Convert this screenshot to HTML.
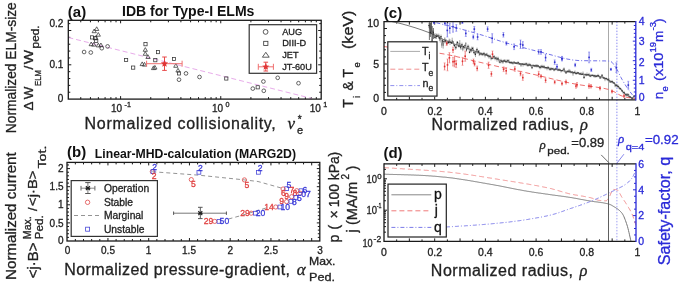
<!DOCTYPE html>
<html><head><meta charset="utf-8"><style>
html,body{margin:0;padding:0;background:#fff;width:685px;height:285px;overflow:hidden;}
svg{display:block;filter:blur(0.35px);}
</style></head><body>
<svg width="685" height="285" viewBox="0 0 685 285" xmlns="http://www.w3.org/2000/svg">
<rect x="0" y="0" width="685" height="285" fill="#fff"/>
<line x1="68.30" y1="64.80" x2="71.30" y2="64.80" stroke="#1a1a1a" stroke-width="1.0" />
<line x1="321.20" y1="64.80" x2="318.20" y2="64.80" stroke="#1a1a1a" stroke-width="1.0" />
<line x1="68.30" y1="30.50" x2="71.30" y2="30.50" stroke="#1a1a1a" stroke-width="1.0" />
<line x1="321.20" y1="30.50" x2="318.20" y2="30.50" stroke="#1a1a1a" stroke-width="1.0" />
<line x1="68.30" y1="92.24" x2="70.30" y2="92.24" stroke="#1a1a1a" stroke-width="1.0" />
<line x1="321.20" y1="92.24" x2="319.20" y2="92.24" stroke="#1a1a1a" stroke-width="1.0" />
<line x1="68.30" y1="85.38" x2="70.30" y2="85.38" stroke="#1a1a1a" stroke-width="1.0" />
<line x1="321.20" y1="85.38" x2="319.20" y2="85.38" stroke="#1a1a1a" stroke-width="1.0" />
<line x1="68.30" y1="78.52" x2="70.30" y2="78.52" stroke="#1a1a1a" stroke-width="1.0" />
<line x1="321.20" y1="78.52" x2="319.20" y2="78.52" stroke="#1a1a1a" stroke-width="1.0" />
<line x1="68.30" y1="71.66" x2="70.30" y2="71.66" stroke="#1a1a1a" stroke-width="1.0" />
<line x1="321.20" y1="71.66" x2="319.20" y2="71.66" stroke="#1a1a1a" stroke-width="1.0" />
<line x1="68.30" y1="57.94" x2="70.30" y2="57.94" stroke="#1a1a1a" stroke-width="1.0" />
<line x1="321.20" y1="57.94" x2="319.20" y2="57.94" stroke="#1a1a1a" stroke-width="1.0" />
<line x1="68.30" y1="51.08" x2="70.30" y2="51.08" stroke="#1a1a1a" stroke-width="1.0" />
<line x1="321.20" y1="51.08" x2="319.20" y2="51.08" stroke="#1a1a1a" stroke-width="1.0" />
<line x1="68.30" y1="44.22" x2="70.30" y2="44.22" stroke="#1a1a1a" stroke-width="1.0" />
<line x1="321.20" y1="44.22" x2="319.20" y2="44.22" stroke="#1a1a1a" stroke-width="1.0" />
<line x1="68.30" y1="37.36" x2="70.30" y2="37.36" stroke="#1a1a1a" stroke-width="1.0" />
<line x1="321.20" y1="37.36" x2="319.20" y2="37.36" stroke="#1a1a1a" stroke-width="1.0" />
<line x1="68.30" y1="23.64" x2="70.30" y2="23.64" stroke="#1a1a1a" stroke-width="1.0" />
<line x1="321.20" y1="23.64" x2="319.20" y2="23.64" stroke="#1a1a1a" stroke-width="1.0" />
<line x1="120.60" y1="99.10" x2="120.60" y2="96.10" stroke="#1a1a1a" stroke-width="1.0" />
<line x1="120.60" y1="20.30" x2="120.60" y2="23.30" stroke="#1a1a1a" stroke-width="1.0" />
<line x1="220.75" y1="99.10" x2="220.75" y2="96.10" stroke="#1a1a1a" stroke-width="1.0" />
<line x1="220.75" y1="20.30" x2="220.75" y2="23.30" stroke="#1a1a1a" stroke-width="1.0" />
<line x1="80.75" y1="99.10" x2="80.75" y2="97.10" stroke="#1a1a1a" stroke-width="1.0" />
<line x1="80.75" y1="20.30" x2="80.75" y2="22.30" stroke="#1a1a1a" stroke-width="1.0" />
<line x1="90.45" y1="99.10" x2="90.45" y2="97.10" stroke="#1a1a1a" stroke-width="1.0" />
<line x1="90.45" y1="20.30" x2="90.45" y2="22.30" stroke="#1a1a1a" stroke-width="1.0" />
<line x1="98.38" y1="99.10" x2="98.38" y2="97.10" stroke="#1a1a1a" stroke-width="1.0" />
<line x1="98.38" y1="20.30" x2="98.38" y2="22.30" stroke="#1a1a1a" stroke-width="1.0" />
<line x1="105.09" y1="99.10" x2="105.09" y2="97.10" stroke="#1a1a1a" stroke-width="1.0" />
<line x1="105.09" y1="20.30" x2="105.09" y2="22.30" stroke="#1a1a1a" stroke-width="1.0" />
<line x1="110.89" y1="99.10" x2="110.89" y2="97.10" stroke="#1a1a1a" stroke-width="1.0" />
<line x1="110.89" y1="20.30" x2="110.89" y2="22.30" stroke="#1a1a1a" stroke-width="1.0" />
<line x1="116.02" y1="99.10" x2="116.02" y2="97.10" stroke="#1a1a1a" stroke-width="1.0" />
<line x1="116.02" y1="20.30" x2="116.02" y2="22.30" stroke="#1a1a1a" stroke-width="1.0" />
<line x1="150.75" y1="99.10" x2="150.75" y2="97.10" stroke="#1a1a1a" stroke-width="1.0" />
<line x1="150.75" y1="20.30" x2="150.75" y2="22.30" stroke="#1a1a1a" stroke-width="1.0" />
<line x1="168.38" y1="99.10" x2="168.38" y2="97.10" stroke="#1a1a1a" stroke-width="1.0" />
<line x1="168.38" y1="20.30" x2="168.38" y2="22.30" stroke="#1a1a1a" stroke-width="1.0" />
<line x1="180.90" y1="99.10" x2="180.90" y2="97.10" stroke="#1a1a1a" stroke-width="1.0" />
<line x1="180.90" y1="20.30" x2="180.90" y2="22.30" stroke="#1a1a1a" stroke-width="1.0" />
<line x1="190.60" y1="99.10" x2="190.60" y2="97.10" stroke="#1a1a1a" stroke-width="1.0" />
<line x1="190.60" y1="20.30" x2="190.60" y2="22.30" stroke="#1a1a1a" stroke-width="1.0" />
<line x1="198.53" y1="99.10" x2="198.53" y2="97.10" stroke="#1a1a1a" stroke-width="1.0" />
<line x1="198.53" y1="20.30" x2="198.53" y2="22.30" stroke="#1a1a1a" stroke-width="1.0" />
<line x1="205.24" y1="99.10" x2="205.24" y2="97.10" stroke="#1a1a1a" stroke-width="1.0" />
<line x1="205.24" y1="20.30" x2="205.24" y2="22.30" stroke="#1a1a1a" stroke-width="1.0" />
<line x1="211.04" y1="99.10" x2="211.04" y2="97.10" stroke="#1a1a1a" stroke-width="1.0" />
<line x1="211.04" y1="20.30" x2="211.04" y2="22.30" stroke="#1a1a1a" stroke-width="1.0" />
<line x1="216.17" y1="99.10" x2="216.17" y2="97.10" stroke="#1a1a1a" stroke-width="1.0" />
<line x1="216.17" y1="20.30" x2="216.17" y2="22.30" stroke="#1a1a1a" stroke-width="1.0" />
<line x1="250.90" y1="99.10" x2="250.90" y2="97.10" stroke="#1a1a1a" stroke-width="1.0" />
<line x1="250.90" y1="20.30" x2="250.90" y2="22.30" stroke="#1a1a1a" stroke-width="1.0" />
<line x1="268.53" y1="99.10" x2="268.53" y2="97.10" stroke="#1a1a1a" stroke-width="1.0" />
<line x1="268.53" y1="20.30" x2="268.53" y2="22.30" stroke="#1a1a1a" stroke-width="1.0" />
<line x1="281.05" y1="99.10" x2="281.05" y2="97.10" stroke="#1a1a1a" stroke-width="1.0" />
<line x1="281.05" y1="20.30" x2="281.05" y2="22.30" stroke="#1a1a1a" stroke-width="1.0" />
<line x1="290.75" y1="99.10" x2="290.75" y2="97.10" stroke="#1a1a1a" stroke-width="1.0" />
<line x1="290.75" y1="20.30" x2="290.75" y2="22.30" stroke="#1a1a1a" stroke-width="1.0" />
<line x1="298.68" y1="99.10" x2="298.68" y2="97.10" stroke="#1a1a1a" stroke-width="1.0" />
<line x1="298.68" y1="20.30" x2="298.68" y2="22.30" stroke="#1a1a1a" stroke-width="1.0" />
<line x1="305.39" y1="99.10" x2="305.39" y2="97.10" stroke="#1a1a1a" stroke-width="1.0" />
<line x1="305.39" y1="20.30" x2="305.39" y2="22.30" stroke="#1a1a1a" stroke-width="1.0" />
<line x1="311.19" y1="99.10" x2="311.19" y2="97.10" stroke="#1a1a1a" stroke-width="1.0" />
<line x1="311.19" y1="20.30" x2="311.19" y2="22.30" stroke="#1a1a1a" stroke-width="1.0" />
<line x1="316.32" y1="99.10" x2="316.32" y2="97.10" stroke="#1a1a1a" stroke-width="1.0" />
<line x1="316.32" y1="20.30" x2="316.32" y2="22.30" stroke="#1a1a1a" stroke-width="1.0" />
<line x1="68.30" y1="37.50" x2="312.00" y2="98.50" stroke="#e8acea" stroke-width="1.0" stroke-dasharray="5,3"/>
<circle cx="84.1" cy="52" r="1.85" fill="none" stroke="#333" stroke-width="0.75"/>
<circle cx="90.8" cy="52.5" r="1.85" fill="none" stroke="#333" stroke-width="0.75"/>
<circle cx="101.8" cy="48.2" r="1.85" fill="none" stroke="#333" stroke-width="0.75"/>
<circle cx="107.6" cy="46.4" r="1.85" fill="none" stroke="#333" stroke-width="0.75"/>
<circle cx="186" cy="73.4" r="1.85" fill="none" stroke="#333" stroke-width="0.75"/>
<circle cx="179" cy="79.7" r="1.85" fill="none" stroke="#333" stroke-width="0.75"/>
<circle cx="199.5" cy="77" r="1.85" fill="none" stroke="#333" stroke-width="0.75"/>
<circle cx="263.4" cy="81.5" r="1.85" fill="none" stroke="#333" stroke-width="0.75"/>
<circle cx="277.7" cy="77.8" r="1.85" fill="none" stroke="#333" stroke-width="0.75"/>
<circle cx="298.5" cy="83.2" r="1.85" fill="none" stroke="#333" stroke-width="0.75"/>
<circle cx="252.8" cy="88.6" r="1.85" fill="none" stroke="#333" stroke-width="0.75"/>
<circle cx="263.8" cy="90.8" r="1.85" fill="none" stroke="#333" stroke-width="0.75"/>
<rect x="90.40" y="35.80" width="3.2" height="3.2" fill="none" stroke="#333" stroke-width="0.75"/>
<rect x="93.60" y="36.60" width="3.2" height="3.2" fill="none" stroke="#333" stroke-width="0.75"/>
<rect x="94.60" y="39.30" width="3.2" height="3.2" fill="none" stroke="#333" stroke-width="0.75"/>
<rect x="124.50" y="58.40" width="3.2" height="3.2" fill="none" stroke="#333" stroke-width="0.75"/>
<rect x="131.60" y="66.00" width="3.2" height="3.2" fill="none" stroke="#333" stroke-width="0.75"/>
<rect x="143.90" y="42.60" width="3.2" height="3.2" fill="none" stroke="#333" stroke-width="0.75"/>
<rect x="156.40" y="50.50" width="3.2" height="3.2" fill="none" stroke="#333" stroke-width="0.75"/>
<rect x="153.70" y="58.60" width="3.2" height="3.2" fill="none" stroke="#333" stroke-width="0.75"/>
<rect x="172.40" y="57.40" width="3.2" height="3.2" fill="none" stroke="#333" stroke-width="0.75"/>
<rect x="224.70" y="76.90" width="3.2" height="3.2" fill="none" stroke="#333" stroke-width="0.75"/>
<rect x="256.10" y="85.70" width="3.2" height="3.2" fill="none" stroke="#333" stroke-width="0.75"/>
<rect x="177.40" y="71.80" width="3.2" height="3.2" fill="none" stroke="#333" stroke-width="0.75"/>
<path d="M94.20,29.00 L96.30,32.70 L92.10,32.70 Z" fill="none" stroke="#333" stroke-width="0.75"/>
<path d="M96.70,26.80 L98.80,30.50 L94.60,30.50 Z" fill="none" stroke="#333" stroke-width="0.75"/>
<path d="M98.30,32.50 L100.40,36.20 L96.20,36.20 Z" fill="none" stroke="#333" stroke-width="0.75"/>
<path d="M95.80,35.70 L97.90,39.40 L93.70,39.40 Z" fill="none" stroke="#333" stroke-width="0.75"/>
<path d="M91.20,42.00 L93.30,45.70 L89.10,45.70 Z" fill="none" stroke="#333" stroke-width="0.75"/>
<path d="M93.70,42.40 L95.80,46.10 L91.60,46.10 Z" fill="none" stroke="#333" stroke-width="0.75"/>
<path d="M98.30,43.20 L100.40,46.90 L96.20,46.90 Z" fill="none" stroke="#333" stroke-width="0.75"/>
<path d="M100.90,43.00 L103.00,46.70 L98.80,46.70 Z" fill="none" stroke="#333" stroke-width="0.75"/>
<path d="M145.30,47.60 L147.40,51.30 L143.20,51.30 Z" fill="none" stroke="#333" stroke-width="0.75"/>
<path d="M145.30,51.60 L147.40,55.30 L143.20,55.30 Z" fill="none" stroke="#333" stroke-width="0.75"/>
<path d="M148.00,54.80 L150.10,58.50 L145.90,58.50 Z" fill="none" stroke="#333" stroke-width="0.75"/>
<path d="M142.20,61.90 L144.30,65.60 L140.10,65.60 Z" fill="none" stroke="#333" stroke-width="0.75"/>
<path d="M144.50,62.40 L146.60,66.10 L142.40,66.10 Z" fill="none" stroke="#333" stroke-width="0.75"/>
<path d="M154.90,65.40 L157.00,69.10 L152.80,69.10 Z" fill="none" stroke="#333" stroke-width="0.75"/>
<path d="M153.50,65.90 L155.60,69.60 L151.40,69.60 Z" fill="none" stroke="#333" stroke-width="0.75"/>
<path d="M175.80,63.60 L177.90,67.30 L173.70,67.30 Z" fill="none" stroke="#333" stroke-width="0.75"/>
<path d="M178.00,68.30 L180.10,72.00 L175.90,72.00 Z" fill="none" stroke="#333" stroke-width="0.75"/>
<line x1="146.60" y1="63.70" x2="182.10" y2="63.70" stroke="#ef7070" stroke-width="1.0" />
<line x1="146.60" y1="60.70" x2="146.60" y2="66.70" stroke="#ef7070" stroke-width="1.0" />
<line x1="182.10" y1="60.70" x2="182.10" y2="66.70" stroke="#ef7070" stroke-width="1.0" />
<line x1="164.50" y1="57.00" x2="164.50" y2="70.40" stroke="#e84848" stroke-width="1.0" />
<line x1="162.20" y1="57.00" x2="166.80" y2="57.00" stroke="#e84848" stroke-width="1.0" />
<line x1="162.20" y1="70.40" x2="166.80" y2="70.40" stroke="#e84848" stroke-width="1.0" />
<polygon points="164.50,59.90 165.51,62.32 168.11,62.53 166.13,64.23 166.73,66.77 164.50,65.41 162.27,66.77 162.87,64.23 160.89,62.53 163.49,62.32" fill="#e03535"/>
<rect x="68.3" y="20.3" width="252.90" height="78.80" fill="none" stroke="#1a1a1a" stroke-width="1.3"/>
<rect x="249.2" y="24.7" width="67.4" height="48.6" fill="#fff" stroke="#333" stroke-width="1.2"/>
<circle cx="265.6" cy="31.9" r="2.4" fill="none" stroke="#333" stroke-width="0.8"/>
<rect x="263.7" y="41.3" width="4.2" height="4.2" fill="none" stroke="#333" stroke-width="0.8"/>
<path d="M265.8,52.3 L269.2,57.2 L262.4,57.2 Z" fill="none" stroke="#333" stroke-width="0.8"/>
<line x1="258.30" y1="66.80" x2="273.40" y2="66.80" stroke="#ef7070" stroke-width="1.0" />
<line x1="258.30" y1="63.80" x2="258.30" y2="69.80" stroke="#ef7070" stroke-width="1.0" />
<line x1="273.40" y1="63.80" x2="273.40" y2="69.80" stroke="#ef7070" stroke-width="1.0" />
<line x1="265.80" y1="62.20" x2="265.80" y2="71.00" stroke="#e84848" stroke-width="1.0" />
<line x1="263.50" y1="62.20" x2="268.10" y2="62.20" stroke="#e84848" stroke-width="1.0" />
<line x1="263.50" y1="71.00" x2="268.10" y2="71.00" stroke="#e84848" stroke-width="1.0" />
<polygon points="265.80,63.00 266.81,65.42 269.41,65.63 267.43,67.33 268.03,69.87 265.80,68.51 263.57,69.87 264.17,67.33 262.19,65.63 264.79,65.42" fill="#e03535"/>
<text x="282.20" y="35.20" font-size="9.2" text-anchor="start" fill="#222" stroke="#222" stroke-width="0.3" font-weight="normal" font-family="Liberation Sans" font-style="normal" >AUG</text>
<text x="282.20" y="46.30" font-size="9.2" text-anchor="start" fill="#222" stroke="#222" stroke-width="0.3" font-weight="normal" font-family="Liberation Sans" font-style="normal" >DIII-D</text>
<text x="282.20" y="58.30" font-size="9.2" text-anchor="start" fill="#222" stroke="#222" stroke-width="0.3" font-weight="normal" font-family="Liberation Sans" font-style="normal" >JET</text>
<text x="282.20" y="69.90" font-size="9.2" text-anchor="start" fill="#222" stroke="#222" stroke-width="0.3" font-weight="normal" font-family="Liberation Sans" font-style="normal" >JT-60U</text>
<text x="63.30" y="26.70" font-size="10" text-anchor="end" fill="#222" stroke="#222" stroke-width="0.3" font-weight="normal" font-family="Liberation Sans" font-style="normal" >0.2</text>
<text x="63.30" y="68.20" font-size="10" text-anchor="end" fill="#222" stroke="#222" stroke-width="0.3" font-weight="normal" font-family="Liberation Sans" font-style="normal" >0.1</text>
<text x="63.30" y="102.00" font-size="10" text-anchor="end" fill="#222" stroke="#222" stroke-width="0.3" font-weight="normal" font-family="Liberation Sans" font-style="normal" >0</text>
<text x="111.00" y="112.20" font-size="10" text-anchor="start" fill="#222" stroke="#222" stroke-width="0.3" font-weight="normal" font-family="Liberation Sans" font-style="normal" >10</text>
<text x="124.60" y="107.40" font-size="7.2" text-anchor="start" fill="#222" stroke="#222" stroke-width="0.3" font-weight="normal" font-family="Liberation Sans" font-style="normal" >-1</text>
<text x="212.00" y="112.20" font-size="10" text-anchor="start" fill="#222" stroke="#222" stroke-width="0.3" font-weight="normal" font-family="Liberation Sans" font-style="normal" >10</text>
<text x="225.60" y="107.40" font-size="7.2" text-anchor="start" fill="#222" stroke="#222" stroke-width="0.3" font-weight="normal" font-family="Liberation Sans" font-style="normal" >0</text>
<text x="309.70" y="112.20" font-size="10" text-anchor="start" fill="#222" stroke="#222" stroke-width="0.3" font-weight="normal" font-family="Liberation Sans" font-style="normal" >10</text>
<text x="323.30" y="107.40" font-size="7.2" text-anchor="start" fill="#222" stroke="#222" stroke-width="0.3" font-weight="normal" font-family="Liberation Sans" font-style="normal" >1</text>
<text x="67.80" y="16.80" font-size="15" text-anchor="start" fill="#111" stroke="#111" stroke-width="0.0" font-weight="bold" font-family="Liberation Sans" font-style="normal" >(a)</text>
<text x="122.00" y="15.90" font-size="14" text-anchor="start" fill="#111" stroke="#111" stroke-width="0.0" font-weight="bold" font-family="Liberation Sans" font-style="normal" textLength="132.4" lengthAdjust="spacingAndGlyphs" >IDB for Type-I ELMs</text>
<text x="84.60" y="129.20" font-size="16.0" text-anchor="start" fill="#222" stroke="#222" stroke-width="0.3" font-weight="normal" font-family="Liberation Sans" font-style="normal" textLength="191.2" lengthAdjust="spacing" >Normalized collisionality,</text>
<text x="287.50" y="129.00" font-size="17" text-anchor="start" fill="#222" stroke="#222" stroke-width="0.3" font-weight="normal" font-family="Liberation Serif" font-style="italic" >&#957;</text>
<text x="297.00" y="133.80" font-size="11" text-anchor="start" fill="#222" stroke="#222" stroke-width="0.3" font-weight="normal" font-family="Liberation Sans" font-style="normal" >e</text>
<text x="297.80" y="122.50" font-size="10" text-anchor="start" fill="#222" stroke="#222" stroke-width="0.3" font-weight="normal" font-family="Liberation Sans" font-style="normal" >*</text>
<text transform="translate(16.30,133.20) rotate(-90)" x="0" y="0" font-size="14" fill="#222" stroke="#222" stroke-width="0.3" font-family="Liberation Sans" font-style="normal" text-anchor="start" textLength="131.0" lengthAdjust="spacingAndGlyphs">Normalized ELM-size</text>
<text transform="translate(33.40,110.40) rotate(-90)" x="0" y="0" font-size="13.3" fill="#222" stroke="#222" stroke-width="0.3" font-family="Liberation Sans" font-style="normal" text-anchor="start">&#916;</text>
<text transform="translate(33.40,99.30) rotate(-90)" x="0" y="0" font-size="13.3" fill="#222" stroke="#222" stroke-width="0.3" font-family="Liberation Sans" font-style="normal" text-anchor="start">W</text>
<text transform="translate(40.60,85.90) rotate(-90)" x="0" y="0" font-size="9.0" fill="#222" stroke="#222" stroke-width="0.3" font-family="Liberation Sans" font-style="normal" text-anchor="start" textLength="15.8" lengthAdjust="spacingAndGlyphs">ELM</text>
<text transform="translate(33.40,69.60) rotate(-90)" x="0" y="0" font-size="13.3" fill="#222" stroke="#222" stroke-width="0.3" font-family="Liberation Sans" font-style="normal" text-anchor="start">/</text>
<text transform="translate(33.40,64.20) rotate(-90)" x="0" y="0" font-size="13.3" fill="#222" stroke="#222" stroke-width="0.3" font-family="Liberation Sans" font-style="normal" text-anchor="start" textLength="14.4" lengthAdjust="spacingAndGlyphs">W</text>
<text transform="translate(39.40,48.40) rotate(-90)" x="0" y="0" font-size="10.0" fill="#222" stroke="#222" stroke-width="0.3" font-family="Liberation Sans" font-style="normal" text-anchor="start" textLength="23.0" lengthAdjust="spacingAndGlyphs">ped.</text>
<line x1="107.95" y1="241.00" x2="107.95" y2="238.00" stroke="#1a1a1a" stroke-width="1.0" />
<line x1="107.95" y1="162.40" x2="107.95" y2="165.40" stroke="#1a1a1a" stroke-width="1.0" />
<line x1="148.70" y1="241.00" x2="148.70" y2="238.00" stroke="#1a1a1a" stroke-width="1.0" />
<line x1="148.70" y1="162.40" x2="148.70" y2="165.40" stroke="#1a1a1a" stroke-width="1.0" />
<line x1="189.45" y1="241.00" x2="189.45" y2="238.00" stroke="#1a1a1a" stroke-width="1.0" />
<line x1="189.45" y1="162.40" x2="189.45" y2="165.40" stroke="#1a1a1a" stroke-width="1.0" />
<line x1="230.20" y1="241.00" x2="230.20" y2="238.00" stroke="#1a1a1a" stroke-width="1.0" />
<line x1="230.20" y1="162.40" x2="230.20" y2="165.40" stroke="#1a1a1a" stroke-width="1.0" />
<line x1="270.95" y1="241.00" x2="270.95" y2="238.00" stroke="#1a1a1a" stroke-width="1.0" />
<line x1="270.95" y1="162.40" x2="270.95" y2="165.40" stroke="#1a1a1a" stroke-width="1.0" />
<line x1="311.70" y1="241.00" x2="311.70" y2="238.00" stroke="#1a1a1a" stroke-width="1.0" />
<line x1="311.70" y1="162.40" x2="311.70" y2="165.40" stroke="#1a1a1a" stroke-width="1.0" />
<line x1="75.35" y1="241.00" x2="75.35" y2="239.00" stroke="#1a1a1a" stroke-width="1.0" />
<line x1="75.35" y1="162.40" x2="75.35" y2="164.40" stroke="#1a1a1a" stroke-width="1.0" />
<line x1="83.50" y1="241.00" x2="83.50" y2="239.00" stroke="#1a1a1a" stroke-width="1.0" />
<line x1="83.50" y1="162.40" x2="83.50" y2="164.40" stroke="#1a1a1a" stroke-width="1.0" />
<line x1="91.65" y1="241.00" x2="91.65" y2="239.00" stroke="#1a1a1a" stroke-width="1.0" />
<line x1="91.65" y1="162.40" x2="91.65" y2="164.40" stroke="#1a1a1a" stroke-width="1.0" />
<line x1="99.80" y1="241.00" x2="99.80" y2="239.00" stroke="#1a1a1a" stroke-width="1.0" />
<line x1="99.80" y1="162.40" x2="99.80" y2="164.40" stroke="#1a1a1a" stroke-width="1.0" />
<line x1="116.10" y1="241.00" x2="116.10" y2="239.00" stroke="#1a1a1a" stroke-width="1.0" />
<line x1="116.10" y1="162.40" x2="116.10" y2="164.40" stroke="#1a1a1a" stroke-width="1.0" />
<line x1="124.25" y1="241.00" x2="124.25" y2="239.00" stroke="#1a1a1a" stroke-width="1.0" />
<line x1="124.25" y1="162.40" x2="124.25" y2="164.40" stroke="#1a1a1a" stroke-width="1.0" />
<line x1="132.40" y1="241.00" x2="132.40" y2="239.00" stroke="#1a1a1a" stroke-width="1.0" />
<line x1="132.40" y1="162.40" x2="132.40" y2="164.40" stroke="#1a1a1a" stroke-width="1.0" />
<line x1="140.55" y1="241.00" x2="140.55" y2="239.00" stroke="#1a1a1a" stroke-width="1.0" />
<line x1="140.55" y1="162.40" x2="140.55" y2="164.40" stroke="#1a1a1a" stroke-width="1.0" />
<line x1="156.85" y1="241.00" x2="156.85" y2="239.00" stroke="#1a1a1a" stroke-width="1.0" />
<line x1="156.85" y1="162.40" x2="156.85" y2="164.40" stroke="#1a1a1a" stroke-width="1.0" />
<line x1="165.00" y1="241.00" x2="165.00" y2="239.00" stroke="#1a1a1a" stroke-width="1.0" />
<line x1="165.00" y1="162.40" x2="165.00" y2="164.40" stroke="#1a1a1a" stroke-width="1.0" />
<line x1="173.15" y1="241.00" x2="173.15" y2="239.00" stroke="#1a1a1a" stroke-width="1.0" />
<line x1="173.15" y1="162.40" x2="173.15" y2="164.40" stroke="#1a1a1a" stroke-width="1.0" />
<line x1="181.30" y1="241.00" x2="181.30" y2="239.00" stroke="#1a1a1a" stroke-width="1.0" />
<line x1="181.30" y1="162.40" x2="181.30" y2="164.40" stroke="#1a1a1a" stroke-width="1.0" />
<line x1="197.60" y1="241.00" x2="197.60" y2="239.00" stroke="#1a1a1a" stroke-width="1.0" />
<line x1="197.60" y1="162.40" x2="197.60" y2="164.40" stroke="#1a1a1a" stroke-width="1.0" />
<line x1="205.75" y1="241.00" x2="205.75" y2="239.00" stroke="#1a1a1a" stroke-width="1.0" />
<line x1="205.75" y1="162.40" x2="205.75" y2="164.40" stroke="#1a1a1a" stroke-width="1.0" />
<line x1="213.90" y1="241.00" x2="213.90" y2="239.00" stroke="#1a1a1a" stroke-width="1.0" />
<line x1="213.90" y1="162.40" x2="213.90" y2="164.40" stroke="#1a1a1a" stroke-width="1.0" />
<line x1="222.05" y1="241.00" x2="222.05" y2="239.00" stroke="#1a1a1a" stroke-width="1.0" />
<line x1="222.05" y1="162.40" x2="222.05" y2="164.40" stroke="#1a1a1a" stroke-width="1.0" />
<line x1="238.35" y1="241.00" x2="238.35" y2="239.00" stroke="#1a1a1a" stroke-width="1.0" />
<line x1="238.35" y1="162.40" x2="238.35" y2="164.40" stroke="#1a1a1a" stroke-width="1.0" />
<line x1="246.50" y1="241.00" x2="246.50" y2="239.00" stroke="#1a1a1a" stroke-width="1.0" />
<line x1="246.50" y1="162.40" x2="246.50" y2="164.40" stroke="#1a1a1a" stroke-width="1.0" />
<line x1="254.65" y1="241.00" x2="254.65" y2="239.00" stroke="#1a1a1a" stroke-width="1.0" />
<line x1="254.65" y1="162.40" x2="254.65" y2="164.40" stroke="#1a1a1a" stroke-width="1.0" />
<line x1="262.80" y1="241.00" x2="262.80" y2="239.00" stroke="#1a1a1a" stroke-width="1.0" />
<line x1="262.80" y1="162.40" x2="262.80" y2="164.40" stroke="#1a1a1a" stroke-width="1.0" />
<line x1="279.10" y1="241.00" x2="279.10" y2="239.00" stroke="#1a1a1a" stroke-width="1.0" />
<line x1="279.10" y1="162.40" x2="279.10" y2="164.40" stroke="#1a1a1a" stroke-width="1.0" />
<line x1="287.25" y1="241.00" x2="287.25" y2="239.00" stroke="#1a1a1a" stroke-width="1.0" />
<line x1="287.25" y1="162.40" x2="287.25" y2="164.40" stroke="#1a1a1a" stroke-width="1.0" />
<line x1="295.40" y1="241.00" x2="295.40" y2="239.00" stroke="#1a1a1a" stroke-width="1.0" />
<line x1="295.40" y1="162.40" x2="295.40" y2="164.40" stroke="#1a1a1a" stroke-width="1.0" />
<line x1="303.55" y1="241.00" x2="303.55" y2="239.00" stroke="#1a1a1a" stroke-width="1.0" />
<line x1="303.55" y1="162.40" x2="303.55" y2="164.40" stroke="#1a1a1a" stroke-width="1.0" />
<line x1="67.00" y1="222.90" x2="70.00" y2="222.90" stroke="#1a1a1a" stroke-width="1.0" />
<line x1="319.80" y1="222.90" x2="316.80" y2="222.90" stroke="#1a1a1a" stroke-width="1.0" />
<line x1="67.00" y1="204.80" x2="70.00" y2="204.80" stroke="#1a1a1a" stroke-width="1.0" />
<line x1="319.80" y1="204.80" x2="316.80" y2="204.80" stroke="#1a1a1a" stroke-width="1.0" />
<line x1="67.00" y1="186.70" x2="70.00" y2="186.70" stroke="#1a1a1a" stroke-width="1.0" />
<line x1="319.80" y1="186.70" x2="316.80" y2="186.70" stroke="#1a1a1a" stroke-width="1.0" />
<line x1="67.00" y1="168.60" x2="70.00" y2="168.60" stroke="#1a1a1a" stroke-width="1.0" />
<line x1="319.80" y1="168.60" x2="316.80" y2="168.60" stroke="#1a1a1a" stroke-width="1.0" />
<line x1="67.00" y1="237.38" x2="69.00" y2="237.38" stroke="#1a1a1a" stroke-width="1.0" />
<line x1="319.80" y1="237.38" x2="317.80" y2="237.38" stroke="#1a1a1a" stroke-width="1.0" />
<line x1="67.00" y1="233.76" x2="69.00" y2="233.76" stroke="#1a1a1a" stroke-width="1.0" />
<line x1="319.80" y1="233.76" x2="317.80" y2="233.76" stroke="#1a1a1a" stroke-width="1.0" />
<line x1="67.00" y1="230.14" x2="69.00" y2="230.14" stroke="#1a1a1a" stroke-width="1.0" />
<line x1="319.80" y1="230.14" x2="317.80" y2="230.14" stroke="#1a1a1a" stroke-width="1.0" />
<line x1="67.00" y1="226.52" x2="69.00" y2="226.52" stroke="#1a1a1a" stroke-width="1.0" />
<line x1="319.80" y1="226.52" x2="317.80" y2="226.52" stroke="#1a1a1a" stroke-width="1.0" />
<line x1="67.00" y1="219.28" x2="69.00" y2="219.28" stroke="#1a1a1a" stroke-width="1.0" />
<line x1="319.80" y1="219.28" x2="317.80" y2="219.28" stroke="#1a1a1a" stroke-width="1.0" />
<line x1="67.00" y1="215.66" x2="69.00" y2="215.66" stroke="#1a1a1a" stroke-width="1.0" />
<line x1="319.80" y1="215.66" x2="317.80" y2="215.66" stroke="#1a1a1a" stroke-width="1.0" />
<line x1="67.00" y1="212.04" x2="69.00" y2="212.04" stroke="#1a1a1a" stroke-width="1.0" />
<line x1="319.80" y1="212.04" x2="317.80" y2="212.04" stroke="#1a1a1a" stroke-width="1.0" />
<line x1="67.00" y1="208.42" x2="69.00" y2="208.42" stroke="#1a1a1a" stroke-width="1.0" />
<line x1="319.80" y1="208.42" x2="317.80" y2="208.42" stroke="#1a1a1a" stroke-width="1.0" />
<line x1="67.00" y1="201.18" x2="69.00" y2="201.18" stroke="#1a1a1a" stroke-width="1.0" />
<line x1="319.80" y1="201.18" x2="317.80" y2="201.18" stroke="#1a1a1a" stroke-width="1.0" />
<line x1="67.00" y1="197.56" x2="69.00" y2="197.56" stroke="#1a1a1a" stroke-width="1.0" />
<line x1="319.80" y1="197.56" x2="317.80" y2="197.56" stroke="#1a1a1a" stroke-width="1.0" />
<line x1="67.00" y1="193.94" x2="69.00" y2="193.94" stroke="#1a1a1a" stroke-width="1.0" />
<line x1="319.80" y1="193.94" x2="317.80" y2="193.94" stroke="#1a1a1a" stroke-width="1.0" />
<line x1="67.00" y1="190.32" x2="69.00" y2="190.32" stroke="#1a1a1a" stroke-width="1.0" />
<line x1="319.80" y1="190.32" x2="317.80" y2="190.32" stroke="#1a1a1a" stroke-width="1.0" />
<line x1="67.00" y1="183.08" x2="69.00" y2="183.08" stroke="#1a1a1a" stroke-width="1.0" />
<line x1="319.80" y1="183.08" x2="317.80" y2="183.08" stroke="#1a1a1a" stroke-width="1.0" />
<line x1="67.00" y1="179.46" x2="69.00" y2="179.46" stroke="#1a1a1a" stroke-width="1.0" />
<line x1="319.80" y1="179.46" x2="317.80" y2="179.46" stroke="#1a1a1a" stroke-width="1.0" />
<line x1="67.00" y1="175.84" x2="69.00" y2="175.84" stroke="#1a1a1a" stroke-width="1.0" />
<line x1="319.80" y1="175.84" x2="317.80" y2="175.84" stroke="#1a1a1a" stroke-width="1.0" />
<line x1="67.00" y1="172.22" x2="69.00" y2="172.22" stroke="#1a1a1a" stroke-width="1.0" />
<line x1="319.80" y1="172.22" x2="317.80" y2="172.22" stroke="#1a1a1a" stroke-width="1.0" />
<line x1="67.00" y1="164.98" x2="69.00" y2="164.98" stroke="#1a1a1a" stroke-width="1.0" />
<line x1="319.80" y1="164.98" x2="317.80" y2="164.98" stroke="#1a1a1a" stroke-width="1.0" />
<path d="M152.3,171.7 L199,175.2 L244.4,179.9 L258,181.5 L283.0,188.5 M228.5,219.0 L241.0,215.6 L266.0,208.0" fill="none" stroke="#888" stroke-width="0.9" stroke-dasharray="4,3"/>
<line x1="173.60" y1="213.20" x2="226.40" y2="213.20" stroke="#777" stroke-width="1.0" />
<line x1="173.60" y1="211.50" x2="173.60" y2="214.90" stroke="#555" stroke-width="1.0" />
<line x1="226.40" y1="211.50" x2="226.40" y2="214.90" stroke="#555" stroke-width="1.0" />
<line x1="200.30" y1="207.30" x2="200.30" y2="218.60" stroke="#555" stroke-width="1.0" />
<line x1="198.00" y1="207.30" x2="202.60" y2="207.30" stroke="#555" stroke-width="1.0" />
<line x1="198.00" y1="218.60" x2="202.60" y2="218.60" stroke="#555" stroke-width="1.0" />
<path d="M198.30,211.20 L202.30,215.20 M202.30,211.20 L198.30,215.20 M197.90,213.20 L202.70,213.20" stroke="#222" stroke-width="1.1" fill="none"/>
<rect x="199.10" y="212.00" width="2.4" height="2.4" fill="#222"/>
<circle cx="152.3" cy="171.7" r="2.1" fill="none" stroke="#e04848" stroke-width="0.8"/>
<rect x="151.10" y="169.60" width="3.8" height="3.8" fill="none" stroke="#4848d8" stroke-width="0.8"/>
<text x="154.70" y="170.00" font-size="8.6" text-anchor="middle" fill="#3a3ad8" stroke="#3a3ad8" stroke-width="0.3" font-weight="normal" font-family="Liberation Sans" font-style="normal" >2</text>
<text x="154.10" y="179.40" font-size="8.6" text-anchor="middle" fill="#e04040" stroke="#e04040" stroke-width="0.3" font-weight="normal" font-family="Liberation Sans" font-style="normal" >2</text>
<rect x="197.00" y="170.40" width="3.8" height="3.8" fill="none" stroke="#4848d8" stroke-width="0.8"/>
<text x="200.30" y="170.50" font-size="8.6" text-anchor="middle" fill="#3a3ad8" stroke="#3a3ad8" stroke-width="0.3" font-weight="normal" font-family="Liberation Sans" font-style="normal" >2</text>
<rect x="256.50" y="170.40" width="3.8" height="3.8" fill="none" stroke="#4848d8" stroke-width="0.8"/>
<text x="260.20" y="170.50" font-size="8.6" text-anchor="middle" fill="#3a3ad8" stroke="#3a3ad8" stroke-width="0.3" font-weight="normal" font-family="Liberation Sans" font-style="normal" >2</text>
<circle cx="191.3" cy="179.6" r="2.1" fill="none" stroke="#e04848" stroke-width="0.8"/>
<text x="193.50" y="187.30" font-size="8.6" text-anchor="middle" fill="#e04040" stroke="#e04040" stroke-width="0.3" font-weight="normal" font-family="Liberation Sans" font-style="normal" >5</text>
<circle cx="244.4" cy="179.9" r="2.1" fill="none" stroke="#e04848" stroke-width="0.8"/>
<text x="246.90" y="187.60" font-size="8.6" text-anchor="middle" fill="#e04040" stroke="#e04040" stroke-width="0.3" font-weight="normal" font-family="Liberation Sans" font-style="normal" >5</text>
<rect x="284.70" y="186.80" width="3.8" height="3.8" fill="none" stroke="#4848d8" stroke-width="0.8"/>
<text x="288.80" y="187.50" font-size="8.6" text-anchor="middle" fill="#3a3ad8" stroke="#3a3ad8" stroke-width="0.3" font-weight="normal" font-family="Liberation Sans" font-style="normal" >5</text>
<circle cx="283.1" cy="189" r="2.1" fill="none" stroke="#e04848" stroke-width="0.8"/>
<text x="283.50" y="196.00" font-size="8.6" text-anchor="middle" fill="#e04040" stroke="#e04040" stroke-width="0.3" font-weight="normal" font-family="Liberation Sans" font-style="normal" >6</text>
<text x="292.00" y="193.30" font-size="8.6" text-anchor="middle" fill="#e04040" stroke="#e04040" stroke-width="0.3" font-weight="normal" font-family="Liberation Sans" font-style="normal" >7</text>
<circle cx="296.7" cy="190.7" r="2.1" fill="none" stroke="#e04848" stroke-width="0.8"/>
<rect x="299.10" y="188.80" width="3.8" height="3.8" fill="none" stroke="#4848d8" stroke-width="0.8"/>
<text x="305.00" y="192.50" font-size="8.6" text-anchor="middle" fill="#3a3ad8" stroke="#3a3ad8" stroke-width="0.3" font-weight="normal" font-family="Liberation Sans" font-style="normal" >6</text>
<text x="295.00" y="196.00" font-size="8.6" text-anchor="middle" fill="#e04040" stroke="#e04040" stroke-width="0.3" font-weight="normal" font-family="Liberation Sans" font-style="normal" >8</text>
<circle cx="300" cy="193.2" r="2.1" fill="none" stroke="#e04848" stroke-width="0.8"/>
<text x="306.00" y="196.60" font-size="8.6" text-anchor="middle" fill="#3a3ad8" stroke="#3a3ad8" stroke-width="0.3" font-weight="normal" font-family="Liberation Sans" font-style="normal" >07</text>
<text x="286.60" y="199.40" font-size="8.6" text-anchor="middle" fill="#e04040" stroke="#e04040" stroke-width="0.3" font-weight="normal" font-family="Liberation Sans" font-style="normal" >9</text>
<circle cx="291.6" cy="196.7" r="2.1" fill="none" stroke="#e04848" stroke-width="0.8"/>
<rect x="293.90" y="195.50" width="3.8" height="3.8" fill="none" stroke="#4848d8" stroke-width="0.8"/>
<text x="299.30" y="200.70" font-size="8.6" text-anchor="middle" fill="#3a3ad8" stroke="#3a3ad8" stroke-width="0.3" font-weight="normal" font-family="Liberation Sans" font-style="normal" >5</text>
<text x="281.70" y="204.30" font-size="8.6" text-anchor="middle" fill="#e04040" stroke="#e04040" stroke-width="0.3" font-weight="normal" font-family="Liberation Sans" font-style="normal" >9</text>
<circle cx="286.6" cy="201.6" r="2.1" fill="none" stroke="#e04848" stroke-width="0.8"/>
<rect x="289.00" y="199.50" width="3.8" height="3.8" fill="none" stroke="#4848d8" stroke-width="0.8"/>
<text x="294.40" y="205.00" font-size="8.6" text-anchor="middle" fill="#3a3ad8" stroke="#3a3ad8" stroke-width="0.3" font-weight="normal" font-family="Liberation Sans" font-style="normal" >8</text>
<text x="269.10" y="209.80" font-size="8.6" text-anchor="middle" fill="#e04040" stroke="#e04040" stroke-width="0.3" font-weight="normal" font-family="Liberation Sans" font-style="normal" >14</text>
<circle cx="275.7" cy="207" r="2.1" fill="none" stroke="#e04848" stroke-width="0.8"/>
<rect x="278.00" y="205.10" width="3.8" height="3.8" fill="none" stroke="#4848d8" stroke-width="0.8"/>
<text x="285.20" y="210.20" font-size="8.6" text-anchor="middle" fill="#3a3ad8" stroke="#3a3ad8" stroke-width="0.3" font-weight="normal" font-family="Liberation Sans" font-style="normal" >10</text>
<text x="245.00" y="216.00" font-size="8.6" text-anchor="middle" fill="#e04040" stroke="#e04040" stroke-width="0.3" font-weight="normal" font-family="Liberation Sans" font-style="normal" >29</text>
<circle cx="251.2" cy="213.2" r="2.1" fill="none" stroke="#e04848" stroke-width="0.8"/>
<rect x="253.50" y="211.30" width="3.8" height="3.8" fill="none" stroke="#4848d8" stroke-width="0.8"/>
<text x="260.50" y="216.20" font-size="8.6" text-anchor="middle" fill="#3a3ad8" stroke="#3a3ad8" stroke-width="0.3" font-weight="normal" font-family="Liberation Sans" font-style="normal" >20</text>
<text x="208.60" y="224.30" font-size="8.6" text-anchor="middle" fill="#e04040" stroke="#e04040" stroke-width="0.3" font-weight="normal" font-family="Liberation Sans" font-style="normal" >29</text>
<circle cx="214.7" cy="221.4" r="2.1" fill="none" stroke="#e04848" stroke-width="0.8"/>
<rect x="217.10" y="219.50" width="3.8" height="3.8" fill="none" stroke="#4848d8" stroke-width="0.8"/>
<text x="224.40" y="224.40" font-size="8.6" text-anchor="middle" fill="#3a3ad8" stroke="#3a3ad8" stroke-width="0.3" font-weight="normal" font-family="Liberation Sans" font-style="normal" >50</text>
<rect x="67.0" y="162.4" width="252.80" height="78.60" fill="none" stroke="#1a1a1a" stroke-width="1.3"/>
<rect x="71.2" y="180.6" width="86.2" height="55.8" fill="#fff" stroke="#333" stroke-width="1.2"/>
<line x1="81.00" y1="188.20" x2="94.90" y2="188.20" stroke="#888" stroke-width="1.0" />
<line x1="81.00" y1="185.90" x2="81.00" y2="190.50" stroke="#666" stroke-width="1.0" />
<line x1="94.90" y1="185.90" x2="94.90" y2="190.50" stroke="#666" stroke-width="1.0" />
<line x1="87.90" y1="182.60" x2="87.90" y2="193.50" stroke="#777" stroke-width="1.0" />
<line x1="85.20" y1="182.60" x2="90.60" y2="182.60" stroke="#555" stroke-width="1.0" />
<line x1="85.20" y1="193.50" x2="90.60" y2="193.50" stroke="#555" stroke-width="1.0" />
<path d="M85.90,186.20 L89.90,190.20 M89.90,186.20 L85.90,190.20 M85.50,188.20 L90.30,188.20" stroke="#222" stroke-width="1.1" fill="none"/>
<rect x="86.70" y="187.00" width="2.4" height="2.4" fill="#222"/>
<circle cx="87.6" cy="202.3" r="2.2" fill="none" stroke="#e04848" stroke-width="0.8"/>
<line x1="74.00" y1="215.50" x2="101.30" y2="215.50" stroke="#888" stroke-width="0.9" stroke-dasharray="4,3"/>
<rect x="85.6" y="227.2" width="4" height="4" fill="none" stroke="#4848d8" stroke-width="0.8"/>
<text x="103.90" y="192.30" font-size="10.3" text-anchor="start" fill="#222" stroke="#222" stroke-width="0.3" font-weight="normal" font-family="Liberation Sans" font-style="normal" >Operation</text>
<text x="103.90" y="205.80" font-size="10.3" text-anchor="start" fill="#222" stroke="#222" stroke-width="0.3" font-weight="normal" font-family="Liberation Sans" font-style="normal" >Stable</text>
<text x="103.90" y="219.30" font-size="10.3" text-anchor="start" fill="#222" stroke="#222" stroke-width="0.3" font-weight="normal" font-family="Liberation Sans" font-style="normal" >Marginal</text>
<text x="103.90" y="232.50" font-size="10.3" text-anchor="start" fill="#222" stroke="#222" stroke-width="0.3" font-weight="normal" font-family="Liberation Sans" font-style="normal" >Unstable</text>
<text x="63.50" y="172.20" font-size="10" text-anchor="end" fill="#222" stroke="#222" stroke-width="0.3" font-weight="normal" font-family="Liberation Sans" font-style="normal" >2</text>
<text x="63.50" y="190.30" font-size="10" text-anchor="end" fill="#222" stroke="#222" stroke-width="0.3" font-weight="normal" font-family="Liberation Sans" font-style="normal" >1.5</text>
<text x="63.50" y="208.40" font-size="10" text-anchor="end" fill="#222" stroke="#222" stroke-width="0.3" font-weight="normal" font-family="Liberation Sans" font-style="normal" >1</text>
<text x="63.50" y="226.50" font-size="10" text-anchor="end" fill="#222" stroke="#222" stroke-width="0.3" font-weight="normal" font-family="Liberation Sans" font-style="normal" >0.5</text>
<text x="63.50" y="243.60" font-size="10" text-anchor="end" fill="#222" stroke="#222" stroke-width="0.3" font-weight="normal" font-family="Liberation Sans" font-style="normal" >0</text>
<text x="67.60" y="253.60" font-size="10" text-anchor="middle" fill="#222" stroke="#222" stroke-width="0.3" font-weight="normal" font-family="Liberation Sans" font-style="normal" >0</text>
<text x="108.00" y="253.60" font-size="10" text-anchor="middle" fill="#222" stroke="#222" stroke-width="0.3" font-weight="normal" font-family="Liberation Sans" font-style="normal" >0.5</text>
<text x="148.50" y="253.60" font-size="10" text-anchor="middle" fill="#222" stroke="#222" stroke-width="0.3" font-weight="normal" font-family="Liberation Sans" font-style="normal" >1</text>
<text x="189.00" y="253.60" font-size="10" text-anchor="middle" fill="#222" stroke="#222" stroke-width="0.3" font-weight="normal" font-family="Liberation Sans" font-style="normal" >1.5</text>
<text x="230.30" y="253.60" font-size="10" text-anchor="middle" fill="#222" stroke="#222" stroke-width="0.3" font-weight="normal" font-family="Liberation Sans" font-style="normal" >2</text>
<text x="271.00" y="253.60" font-size="10" text-anchor="middle" fill="#222" stroke="#222" stroke-width="0.3" font-weight="normal" font-family="Liberation Sans" font-style="normal" >2.5</text>
<text x="320.00" y="253.60" font-size="10" text-anchor="middle" fill="#222" stroke="#222" stroke-width="0.3" font-weight="normal" font-family="Liberation Sans" font-style="normal" >3</text>
<text x="67.00" y="157.20" font-size="15" text-anchor="start" fill="#111" stroke="#111" stroke-width="0.0" font-weight="bold" font-family="Liberation Sans" font-style="normal" >(b)</text>
<text x="94.80" y="158.20" font-size="12.2" text-anchor="start" fill="#111" stroke="#111" stroke-width="0.0" font-weight="bold" font-family="Liberation Sans" font-style="normal" textLength="201.2" lengthAdjust="spacingAndGlyphs" >Linear-MHD-calculation (MARG2D)</text>
<text x="64.30" y="274.50" font-size="16.0" text-anchor="start" fill="#222" stroke="#222" stroke-width="0.3" font-weight="normal" font-family="Liberation Sans" font-style="normal" textLength="225.7" lengthAdjust="spacing" >Normalized pressure-gradient,</text>
<text x="296.80" y="274.90" font-size="17" text-anchor="start" fill="#222" stroke="#222" stroke-width="0.3" font-weight="normal" font-family="Liberation Serif" font-style="italic" >&#945;</text>
<text x="309.00" y="265.40" font-size="11" text-anchor="start" fill="#222" stroke="#222" stroke-width="0.3" font-weight="normal" font-family="Liberation Sans" font-style="normal" textLength="26.5" lengthAdjust="spacingAndGlyphs" >Max.</text>
<text x="309.00" y="281.30" font-size="11" text-anchor="start" fill="#222" stroke="#222" stroke-width="0.3" font-weight="normal" font-family="Liberation Sans" font-style="normal" textLength="26.0" lengthAdjust="spacingAndGlyphs" >Ped.</text>
<text transform="translate(16.20,279.90) rotate(-90)" x="0" y="0" font-size="14" fill="#222" stroke="#222" stroke-width="0.3" font-family="Liberation Sans" font-style="normal" text-anchor="start" textLength="127.6" lengthAdjust="spacingAndGlyphs">Normalized current</text>
<text transform="translate(37.60,278.20) rotate(-90)" x="0" y="0" font-size="14" fill="#222" stroke="#222" stroke-width="0.3" font-family="Liberation Sans" font-style="normal" text-anchor="start" textLength="35.6" lengthAdjust="spacingAndGlyphs">&lt;j&#183;B&gt;</text>
<text transform="translate(30.80,239.20) rotate(-90)" x="0" y="0" font-size="10.8" fill="#222" stroke="#222" stroke-width="0.3" font-family="Liberation Sans" font-style="normal" text-anchor="start" textLength="23.0" lengthAdjust="spacingAndGlyphs">Max.</text>
<text transform="translate(43.20,239.20) rotate(-90)" x="0" y="0" font-size="10.8" fill="#222" stroke="#222" stroke-width="0.3" font-family="Liberation Sans" font-style="normal" text-anchor="start" textLength="23.8" lengthAdjust="spacingAndGlyphs">Ped.</text>
<text transform="translate(37.40,211.00) rotate(-90)" x="0" y="0" font-size="13" fill="#222" stroke="#222" stroke-width="0.3" font-family="Liberation Sans" font-style="normal" text-anchor="start">/</text>
<text transform="translate(37.40,206.00) rotate(-90)" x="0" y="0" font-size="13" fill="#222" stroke="#222" stroke-width="0.3" font-family="Liberation Sans" font-style="normal" text-anchor="start" textLength="35.5" lengthAdjust="spacingAndGlyphs">&lt;j&#183;B&gt;</text>
<text transform="translate(45.80,168.60) rotate(-90)" x="0" y="0" font-size="11" fill="#222" stroke="#222" stroke-width="0.3" font-family="Liberation Sans" font-style="normal" text-anchor="start" textLength="23.0" lengthAdjust="spacingAndGlyphs">Tot.</text>
<clipPath id="clipc"><rect x="384.0" y="21.6" width="251.79999999999995" height="78.19999999999999"/></clipPath>
<line x1="409.35" y1="99.80" x2="409.35" y2="96.80" stroke="#1a1a1a" stroke-width="1.0" />
<line x1="409.35" y1="21.60" x2="409.35" y2="24.60" stroke="#1a1a1a" stroke-width="1.0" />
<line x1="434.70" y1="99.80" x2="434.70" y2="96.80" stroke="#1a1a1a" stroke-width="1.0" />
<line x1="434.70" y1="21.60" x2="434.70" y2="24.60" stroke="#1a1a1a" stroke-width="1.0" />
<line x1="460.05" y1="99.80" x2="460.05" y2="96.80" stroke="#1a1a1a" stroke-width="1.0" />
<line x1="460.05" y1="21.60" x2="460.05" y2="24.60" stroke="#1a1a1a" stroke-width="1.0" />
<line x1="485.40" y1="99.80" x2="485.40" y2="96.80" stroke="#1a1a1a" stroke-width="1.0" />
<line x1="485.40" y1="21.60" x2="485.40" y2="24.60" stroke="#1a1a1a" stroke-width="1.0" />
<line x1="510.75" y1="99.80" x2="510.75" y2="96.80" stroke="#1a1a1a" stroke-width="1.0" />
<line x1="510.75" y1="21.60" x2="510.75" y2="24.60" stroke="#1a1a1a" stroke-width="1.0" />
<line x1="536.10" y1="99.80" x2="536.10" y2="96.80" stroke="#1a1a1a" stroke-width="1.0" />
<line x1="536.10" y1="21.60" x2="536.10" y2="24.60" stroke="#1a1a1a" stroke-width="1.0" />
<line x1="561.45" y1="99.80" x2="561.45" y2="96.80" stroke="#1a1a1a" stroke-width="1.0" />
<line x1="561.45" y1="21.60" x2="561.45" y2="24.60" stroke="#1a1a1a" stroke-width="1.0" />
<line x1="586.80" y1="99.80" x2="586.80" y2="96.80" stroke="#1a1a1a" stroke-width="1.0" />
<line x1="586.80" y1="21.60" x2="586.80" y2="24.60" stroke="#1a1a1a" stroke-width="1.0" />
<line x1="612.15" y1="99.80" x2="612.15" y2="96.80" stroke="#1a1a1a" stroke-width="1.0" />
<line x1="612.15" y1="21.60" x2="612.15" y2="24.60" stroke="#1a1a1a" stroke-width="1.0" />
<line x1="396.68" y1="99.80" x2="396.68" y2="97.80" stroke="#1a1a1a" stroke-width="1.0" />
<line x1="396.68" y1="21.60" x2="396.68" y2="23.60" stroke="#1a1a1a" stroke-width="1.0" />
<line x1="422.02" y1="99.80" x2="422.02" y2="97.80" stroke="#1a1a1a" stroke-width="1.0" />
<line x1="422.02" y1="21.60" x2="422.02" y2="23.60" stroke="#1a1a1a" stroke-width="1.0" />
<line x1="447.38" y1="99.80" x2="447.38" y2="97.80" stroke="#1a1a1a" stroke-width="1.0" />
<line x1="447.38" y1="21.60" x2="447.38" y2="23.60" stroke="#1a1a1a" stroke-width="1.0" />
<line x1="472.73" y1="99.80" x2="472.73" y2="97.80" stroke="#1a1a1a" stroke-width="1.0" />
<line x1="472.73" y1="21.60" x2="472.73" y2="23.60" stroke="#1a1a1a" stroke-width="1.0" />
<line x1="498.07" y1="99.80" x2="498.07" y2="97.80" stroke="#1a1a1a" stroke-width="1.0" />
<line x1="498.07" y1="21.60" x2="498.07" y2="23.60" stroke="#1a1a1a" stroke-width="1.0" />
<line x1="523.42" y1="99.80" x2="523.42" y2="97.80" stroke="#1a1a1a" stroke-width="1.0" />
<line x1="523.42" y1="21.60" x2="523.42" y2="23.60" stroke="#1a1a1a" stroke-width="1.0" />
<line x1="548.78" y1="99.80" x2="548.78" y2="97.80" stroke="#1a1a1a" stroke-width="1.0" />
<line x1="548.78" y1="21.60" x2="548.78" y2="23.60" stroke="#1a1a1a" stroke-width="1.0" />
<line x1="574.12" y1="99.80" x2="574.12" y2="97.80" stroke="#1a1a1a" stroke-width="1.0" />
<line x1="574.12" y1="21.60" x2="574.12" y2="23.60" stroke="#1a1a1a" stroke-width="1.0" />
<line x1="599.48" y1="99.80" x2="599.48" y2="97.80" stroke="#1a1a1a" stroke-width="1.0" />
<line x1="599.48" y1="21.60" x2="599.48" y2="23.60" stroke="#1a1a1a" stroke-width="1.0" />
<line x1="624.83" y1="99.80" x2="624.83" y2="97.80" stroke="#1a1a1a" stroke-width="1.0" />
<line x1="624.83" y1="21.60" x2="624.83" y2="23.60" stroke="#1a1a1a" stroke-width="1.0" />
<line x1="384.00" y1="64.00" x2="387.00" y2="64.00" stroke="#1a1a1a" stroke-width="1.0" />
<line x1="384.00" y1="28.50" x2="387.00" y2="28.50" stroke="#1a1a1a" stroke-width="1.0" />
<line x1="384.00" y1="92.40" x2="386.00" y2="92.40" stroke="#1a1a1a" stroke-width="1.0" />
<line x1="384.00" y1="85.30" x2="386.00" y2="85.30" stroke="#1a1a1a" stroke-width="1.0" />
<line x1="384.00" y1="78.20" x2="386.00" y2="78.20" stroke="#1a1a1a" stroke-width="1.0" />
<line x1="384.00" y1="71.10" x2="386.00" y2="71.10" stroke="#1a1a1a" stroke-width="1.0" />
<line x1="384.00" y1="56.90" x2="386.00" y2="56.90" stroke="#1a1a1a" stroke-width="1.0" />
<line x1="384.00" y1="49.80" x2="386.00" y2="49.80" stroke="#1a1a1a" stroke-width="1.0" />
<line x1="384.00" y1="42.70" x2="386.00" y2="42.70" stroke="#1a1a1a" stroke-width="1.0" />
<line x1="384.00" y1="35.60" x2="386.00" y2="35.60" stroke="#1a1a1a" stroke-width="1.0" />
<line x1="635.80" y1="80.25" x2="632.80" y2="80.25" stroke="#2a2ad8" stroke-width="1.0" />
<line x1="635.80" y1="60.70" x2="632.80" y2="60.70" stroke="#2a2ad8" stroke-width="1.0" />
<line x1="635.80" y1="41.15" x2="632.80" y2="41.15" stroke="#2a2ad8" stroke-width="1.0" />
<line x1="635.80" y1="95.89" x2="633.80" y2="95.89" stroke="#2a2ad8" stroke-width="1.0" />
<line x1="635.80" y1="91.98" x2="633.80" y2="91.98" stroke="#2a2ad8" stroke-width="1.0" />
<line x1="635.80" y1="88.07" x2="633.80" y2="88.07" stroke="#2a2ad8" stroke-width="1.0" />
<line x1="635.80" y1="84.16" x2="633.80" y2="84.16" stroke="#2a2ad8" stroke-width="1.0" />
<line x1="635.80" y1="76.34" x2="633.80" y2="76.34" stroke="#2a2ad8" stroke-width="1.0" />
<line x1="635.80" y1="72.43" x2="633.80" y2="72.43" stroke="#2a2ad8" stroke-width="1.0" />
<line x1="635.80" y1="68.52" x2="633.80" y2="68.52" stroke="#2a2ad8" stroke-width="1.0" />
<line x1="635.80" y1="64.61" x2="633.80" y2="64.61" stroke="#2a2ad8" stroke-width="1.0" />
<line x1="635.80" y1="56.79" x2="633.80" y2="56.79" stroke="#2a2ad8" stroke-width="1.0" />
<line x1="635.80" y1="52.88" x2="633.80" y2="52.88" stroke="#2a2ad8" stroke-width="1.0" />
<line x1="635.80" y1="48.97" x2="633.80" y2="48.97" stroke="#2a2ad8" stroke-width="1.0" />
<line x1="635.80" y1="45.06" x2="633.80" y2="45.06" stroke="#2a2ad8" stroke-width="1.0" />
<line x1="635.80" y1="37.24" x2="633.80" y2="37.24" stroke="#2a2ad8" stroke-width="1.0" />
<line x1="635.80" y1="33.33" x2="633.80" y2="33.33" stroke="#2a2ad8" stroke-width="1.0" />
<line x1="635.80" y1="29.42" x2="633.80" y2="29.42" stroke="#2a2ad8" stroke-width="1.0" />
<line x1="635.80" y1="25.51" x2="633.80" y2="25.51" stroke="#2a2ad8" stroke-width="1.0" />
<line x1="608.50" y1="21.60" x2="608.50" y2="163.90" stroke="#aaa" stroke-width="1.0" />
<line x1="616.90" y1="21.60" x2="616.90" y2="163.90" stroke="#8c8cf0" stroke-width="1.0" stroke-dasharray="1.5,1.5"/>
<g clip-path="url(#clipc)">
<path d="M384.0,20.0 L385.0,20.2 L386.0,20.4 L387.0,20.6 L388.0,20.8 L389.0,21.0 L390.0,21.2 L391.0,21.4 L392.0,21.6 L393.0,21.8 L394.0,22.0 L395.0,22.2 L396.0,22.4 L397.0,22.7 L398.0,22.9 L399.0,23.2 L400.0,23.4 L401.0,23.7 L402.0,23.9 L403.0,24.2 L404.0,24.5 L405.0,24.8 L406.0,25.0 L407.0,25.3 L408.0,25.6 L409.0,25.9 L410.0,26.2 L411.0,26.5 L412.0,26.8 L413.0,27.1 L414.0,27.4 L415.0,27.7 L416.0,28.0 L417.0,28.4 L418.0,28.7 L419.0,29.0 L420.0,29.4 L421.0,29.7 L422.0,30.0 L423.0,30.4 L424.0,30.8 L425.0,31.1 L426.0,31.5 L427.0,31.9 L428.0,32.2 L429.0,32.6 L430.0,33.0 L431.0,33.5 L432.0,33.9 L433.0,34.4 L434.0,34.9 L435.0,35.3 L436.0,35.8 L437.0,36.3 L438.0,36.8 L439.0,37.3 L440.0,37.9 L441.0,38.4 L442.0,38.9 L443.0,39.3 L444.0,39.8 L445.0,40.3 L446.0,40.7 L447.0,41.2 L448.0,41.6 L449.0,42.0 L450.0,42.4 L451.0,42.8 L452.0,43.1 L453.0,43.5 L454.0,43.9 L455.0,44.2 L456.0,44.6 L457.0,44.9 L458.0,45.3 L459.0,45.6 L460.0,46.0 L461.0,46.3 L462.0,46.6 L463.0,47.0 L464.0,47.3 L465.0,47.7 L466.0,48.0 L467.0,48.3 L468.0,48.7 L469.0,49.0 L470.0,49.4 L471.0,49.7 L472.0,50.1 L473.0,50.5 L474.0,50.8 L475.0,51.2 L476.0,51.6 L477.0,51.9 L478.0,52.3 L479.0,52.7 L480.0,53.0 L481.0,53.4 L482.0,53.8 L483.0,54.1 L484.0,54.5 L485.0,54.9 L486.0,55.2 L487.0,55.6 L488.0,55.9 L489.0,56.3 L490.0,56.7 L491.0,57.0 L492.0,57.4 L493.0,57.7 L494.0,58.0 L495.0,58.4 L496.0,58.8 L497.0,59.1 L498.0,59.5 L499.0,59.8 L500.0,60.2 L501.0,60.5 L502.0,60.8 L503.0,61.1 L504.0,61.3 L505.0,61.5 L506.0,61.7 L507.0,61.9 L508.0,62.1 L509.0,62.3 L510.0,62.5 L511.0,62.6 L512.0,62.8 L513.0,63.0 L514.0,63.1 L515.0,63.3 L516.0,63.4 L517.0,63.6 L518.0,63.7 L519.0,63.8 L520.0,64.0 L521.0,64.1 L522.0,64.2 L523.0,64.4 L524.0,64.5 L525.0,64.6 L526.0,64.8 L527.0,64.9 L528.0,65.0 L529.0,65.1 L530.0,65.3 L531.0,65.4 L532.0,65.5 L533.0,65.7 L534.0,65.8 L535.0,65.9 L536.0,66.1 L537.0,66.2 L538.0,66.4 L539.0,66.5 L540.0,66.7 L541.0,66.9 L542.0,67.0 L543.0,67.2 L544.0,67.4 L545.0,67.5 L546.0,67.7 L547.0,67.9 L548.0,68.1 L549.0,68.3 L550.0,68.4 L551.0,68.6 L552.0,68.8 L553.0,69.0 L554.0,69.2 L555.0,69.4 L556.0,69.5 L557.0,69.7 L558.0,69.9 L559.0,70.1 L560.0,70.3 L561.0,70.5 L562.0,70.7 L563.0,70.8 L564.0,71.0 L565.0,71.2 L566.0,71.4 L567.0,71.6 L568.0,71.8 L569.0,71.9 L570.0,72.1 L571.0,72.3 L572.0,72.5 L573.0,72.6 L574.0,72.8 L575.0,73.0 L576.0,73.2 L577.0,73.3 L578.0,73.5 L579.0,73.6 L580.0,73.8 L581.0,74.0 L582.0,74.1 L583.0,74.2 L584.0,74.4 L585.0,74.5 L586.0,74.6 L587.0,74.7 L588.0,74.8 L589.0,74.9 L590.0,75.0 L591.0,75.2 L592.0,75.3 L593.0,75.4 L594.0,75.5 L595.0,75.7 L596.0,75.8 L597.0,76.0 L598.0,76.2 L599.0,76.4 L600.0,76.6 L601.0,76.8 L602.0,77.1 L603.0,77.4 L604.0,77.8 L605.0,78.2 L606.0,78.6 L607.0,79.1 L608.0,79.6 L609.0,80.2 L610.0,80.7 L611.0,81.3 L612.0,81.9 L613.0,82.5 L614.0,83.2 L615.0,83.9 L616.0,84.6 L617.0,85.4 L618.0,86.3 L619.0,87.2 L620.0,88.3 L621.0,89.5 L622.0,90.8 L623.0,92.0 L624.0,93.1 L625.0,94.0 L626.0,94.7 L627.0,95.4 L628.0,96.0 L629.0,96.6 L630.0,97.0 L631.0,97.4 L632.0,97.7 L633.0,98.0 L634.0,98.2 L635.0,98.4 L636.0,98.6" fill="none" stroke="#777" stroke-width="1.0"/>
<path d="M384.0,46.6 L385.0,46.7 L386.0,46.8 L387.0,47.0 L388.0,47.1 L389.0,47.2 L390.0,47.3 L391.0,47.4 L392.0,47.5 L393.0,47.6 L394.0,47.8 L395.0,47.9 L396.0,48.0 L397.0,48.1 L398.0,48.2 L399.0,48.3 L400.0,48.4 L401.0,48.5 L402.0,48.6 L403.0,48.7 L404.0,48.8 L405.0,48.9 L406.0,49.1 L407.0,49.2 L408.0,49.3 L409.0,49.4 L410.0,49.5 L411.0,49.6 L412.0,49.7 L413.0,49.8 L414.0,49.9 L415.0,50.0 L416.0,50.2 L417.0,50.3 L418.0,50.4 L419.0,50.5 L420.0,50.6 L421.0,50.7 L422.0,50.9 L423.0,51.0 L424.0,51.1 L425.0,51.2 L426.0,51.4 L427.0,51.5 L428.0,51.6 L429.0,51.8 L430.0,51.9 L431.0,52.0 L432.0,52.2 L433.0,52.3 L434.0,52.4 L435.0,52.6 L436.0,52.7 L437.0,52.9 L438.0,53.0 L439.0,53.2 L440.0,53.3 L441.0,53.5 L442.0,53.7 L443.0,53.8 L444.0,54.0 L445.0,54.2 L446.0,54.4 L447.0,54.6 L448.0,54.8 L449.0,55.0 L450.0,55.2 L451.0,55.4 L452.0,55.6 L453.0,55.8 L454.0,56.0 L455.0,56.3 L456.0,56.5 L457.0,56.7 L458.0,57.0 L459.0,57.2 L460.0,57.4 L461.0,57.7 L462.0,57.9 L463.0,58.2 L464.0,58.4 L465.0,58.7 L466.0,58.9 L467.0,59.1 L468.0,59.4 L469.0,59.6 L470.0,59.9 L471.0,60.1 L472.0,60.4 L473.0,60.6 L474.0,60.9 L475.0,61.1 L476.0,61.4 L477.0,61.6 L478.0,61.8 L479.0,62.1 L480.0,62.3 L481.0,62.5 L482.0,62.8 L483.0,63.0 L484.0,63.2 L485.0,63.5 L486.0,63.7 L487.0,63.9 L488.0,64.2 L489.0,64.4 L490.0,64.7 L491.0,64.9 L492.0,65.1 L493.0,65.4 L494.0,65.6 L495.0,65.8 L496.0,66.1 L497.0,66.3 L498.0,66.5 L499.0,66.8 L500.0,67.0 L501.0,67.2 L502.0,67.5 L503.0,67.7 L504.0,67.9 L505.0,68.1 L506.0,68.3 L507.0,68.6 L508.0,68.8 L509.0,69.0 L510.0,69.2 L511.0,69.5 L512.0,69.7 L513.0,69.9 L514.0,70.1 L515.0,70.3 L516.0,70.5 L517.0,70.8 L518.0,71.0 L519.0,71.2 L520.0,71.4 L521.0,71.6 L522.0,71.8 L523.0,72.1 L524.0,72.3 L525.0,72.5 L526.0,72.7 L527.0,72.9 L528.0,73.2 L529.0,73.4 L530.0,73.6 L531.0,73.8 L532.0,74.1 L533.0,74.3 L534.0,74.5 L535.0,74.7 L536.0,75.0 L537.0,75.2 L538.0,75.4 L539.0,75.7 L540.0,75.9 L541.0,76.1 L542.0,76.4 L543.0,76.6 L544.0,76.9 L545.0,77.1 L546.0,77.3 L547.0,77.6 L548.0,77.8 L549.0,78.1 L550.0,78.3 L551.0,78.6 L552.0,78.8 L553.0,79.1 L554.0,79.3 L555.0,79.5 L556.0,79.8 L557.0,80.0 L558.0,80.3 L559.0,80.5 L560.0,80.7 L561.0,81.0 L562.0,81.2 L563.0,81.4 L564.0,81.7 L565.0,81.9 L566.0,82.1 L567.0,82.3 L568.0,82.6 L569.0,82.8 L570.0,83.0 L571.0,83.2 L572.0,83.4 L573.0,83.6 L574.0,83.8 L575.0,84.0 L576.0,84.2 L577.0,84.4 L578.0,84.5 L579.0,84.7 L580.0,84.9 L581.0,85.0 L582.0,85.2 L583.0,85.3 L584.0,85.5 L585.0,85.6 L586.0,85.7 L587.0,85.9 L588.0,86.0 L589.0,86.1 L590.0,86.2 L591.0,86.4 L592.0,86.5 L593.0,86.6 L594.0,86.8 L595.0,86.9 L596.0,87.1 L597.0,87.2 L598.0,87.4 L599.0,87.5 L600.0,87.7 L601.0,87.9 L602.0,88.0 L603.0,88.2 L604.0,88.4 L605.0,88.6 L606.0,88.9 L607.0,89.1 L608.0,89.3 L609.0,89.6 L610.0,89.9 L611.0,90.2 L612.0,90.6 L613.0,91.1 L614.0,91.7 L615.0,92.2 L616.0,92.8 L617.0,93.5 L618.0,94.1 L619.0,94.6 L620.0,95.2 L621.0,95.6 L622.0,96.0 L623.0,96.4 L624.0,96.6 L625.0,96.9 L626.0,97.1 L627.0,97.3 L628.0,97.5 L629.0,97.7 L630.0,97.8 L631.0,98.0 L632.0,98.2 L633.0,98.4 L634.0,98.5 L635.0,98.7 L636.0,98.9" fill="none" stroke="#ee7070" stroke-width="1.0" stroke-dasharray="5,3"/>
<path d="M410.0,17.0 L411.0,17.2 L412.0,17.4 L413.0,17.6 L414.0,17.9 L415.0,18.1 L416.0,18.3 L417.0,18.5 L418.0,18.7 L419.0,18.9 L420.0,19.1 L421.0,19.3 L422.0,19.5 L423.0,19.7 L424.0,20.0 L425.0,20.2 L426.0,20.4 L427.0,20.6 L428.0,20.8 L429.0,21.0 L430.0,21.3 L431.0,21.5 L432.0,21.7 L433.0,21.9 L434.0,22.2 L435.0,22.4 L436.0,22.7 L437.0,22.9 L438.0,23.1 L439.0,23.4 L440.0,23.6 L441.0,23.9 L442.0,24.1 L443.0,24.4 L444.0,24.6 L445.0,24.9 L446.0,25.1 L447.0,25.4 L448.0,25.6 L449.0,25.9 L450.0,26.1 L451.0,26.4 L452.0,26.7 L453.0,26.9 L454.0,27.2 L455.0,27.5 L456.0,27.7 L457.0,28.0 L458.0,28.3 L459.0,28.5 L460.0,28.8 L461.0,29.1 L462.0,29.3 L463.0,29.6 L464.0,29.9 L465.0,30.2 L466.0,30.4 L467.0,30.7 L468.0,31.0 L469.0,31.3 L470.0,31.6 L471.0,31.9 L472.0,32.1 L473.0,32.4 L474.0,32.7 L475.0,33.0 L476.0,33.3 L477.0,33.6 L478.0,33.9 L479.0,34.2 L480.0,34.5 L481.0,34.8 L482.0,35.1 L483.0,35.4 L484.0,35.7 L485.0,36.0 L486.0,36.3 L487.0,36.6 L488.0,37.0 L489.0,37.3 L490.0,37.6 L491.0,38.0 L492.0,38.3 L493.0,38.7 L494.0,39.0 L495.0,39.4 L496.0,39.7 L497.0,40.0 L498.0,40.4 L499.0,40.7 L500.0,41.0 L501.0,41.3 L502.0,41.6 L503.0,41.9 L504.0,42.2 L505.0,42.5 L506.0,42.8 L507.0,43.1 L508.0,43.4 L509.0,43.7 L510.0,44.0 L511.0,44.2 L512.0,44.5 L513.0,44.8 L514.0,45.1 L515.0,45.4 L516.0,45.7 L517.0,45.9 L518.0,46.2 L519.0,46.5 L520.0,46.8 L521.0,47.0 L522.0,47.3 L523.0,47.6 L524.0,47.8 L525.0,48.1 L526.0,48.4 L527.0,48.6 L528.0,48.9 L529.0,49.1 L530.0,49.4 L531.0,49.7 L532.0,49.9 L533.0,50.2 L534.0,50.4 L535.0,50.7 L536.0,50.9 L537.0,51.2 L538.0,51.4 L539.0,51.7 L540.0,51.9 L541.0,52.1 L542.0,52.4 L543.0,52.7 L544.0,52.9 L545.0,53.2 L546.0,53.5 L547.0,53.7 L548.0,54.0 L549.0,54.3 L550.0,54.6 L551.0,54.8 L552.0,55.1 L553.0,55.4 L554.0,55.7 L555.0,56.0 L556.0,56.2 L557.0,56.5 L558.0,56.8 L559.0,57.0 L560.0,57.3 L561.0,57.6 L562.0,57.8 L563.0,58.1 L564.0,58.3 L565.0,58.5 L566.0,58.7 L567.0,59.0 L568.0,59.2 L569.0,59.3 L570.0,59.5 L571.0,59.7 L572.0,59.9 L573.0,60.0 L574.0,60.1 L575.0,60.2 L576.0,60.3 L577.0,60.4 L578.0,60.5 L579.0,60.6 L580.0,60.6 L581.0,60.6 L582.0,60.7 L583.0,60.7 L584.0,60.7 L585.0,60.7 L586.0,60.7 L587.0,60.7 L588.0,60.8 L589.0,60.8 L590.0,60.8 L591.0,60.8 L592.0,60.8 L593.0,60.8 L594.0,60.8 L595.0,60.8 L596.0,60.8 L597.0,60.8 L598.0,60.8 L599.0,60.8 L600.0,60.9 L601.0,60.9 L602.0,60.9 L603.0,60.9 L604.0,60.9 L605.0,60.9 L606.0,61.0 L607.0,61.0 L608.0,61.0 L609.0,61.1 L610.0,61.1 L611.0,61.5 L612.0,62.3 L613.0,63.5 L614.0,64.9 L615.0,66.4 L616.0,67.9 L617.0,69.4 L618.0,71.4 L619.0,73.5 L620.0,75.6 L621.0,77.5 L622.0,79.3 L623.0,81.1 L624.0,82.8 L625.0,84.4 L626.0,86.0 L627.0,87.5 L628.0,89.0 L629.0,90.4 L630.0,91.7 L631.0,93.0 L632.0,94.3 L633.0,95.6 L634.0,96.9 L635.0,98.2 L636.0,99.5" fill="none" stroke="#7070e8" stroke-width="1.0" stroke-dasharray="4,2,1,2"/>
<path d="M429.0,25.6 L429.8,26.1 L430.5,32.5 L431.2,22.2 L432.0,42.2 L432.8,31.4 L433.5,32.7 L434.2,35.5 L435.0,37.4 L435.8,36.0 L436.5,36.3 L437.2,34.9 L438.0,35.8 L438.8,36.3 L439.5,38.1 L440.2,39.8 L441.0,36.6 L441.8,45.6 L442.5,40.9 L443.2,45.8 L444.0,41.6 L444.8,38.6 L445.5,41.0 L446.2,41.2 L447.0,43.4 L447.8,41.5 L448.5,42.5 L449.2,40.5 L450.0,42.1 L450.8,42.1 L451.5,42.8 L452.2,40.2 L453.0,42.0 L453.8,45.1 L454.5,45.5 L455.2,47.5 L456.0,47.6 L456.8,43.1 L457.5,42.4 L458.2,44.8 L459.0,46.3 L459.8,42.9 L460.5,47.2 L461.2,47.0 L462.0,44.7 L462.8,49.7 L463.5,46.7 L464.2,48.2 L465.0,45.7 L465.8,43.2 L466.5,50.0 L467.2,48.3 L468.0,46.3 L468.8,47.4 L469.5,52.3 L470.2,50.6 L471.0,50.2 L471.8,49.3 L472.5,48.5 L473.2,48.6 L474.0,52.5 L474.8,53.4 L475.5,54.3 L476.2,51.6 L477.0,49.5 L477.8,52.4 L478.5,51.8 L479.2,53.2 L480.0,54.2 L481.0,53.0 L482.0,54.3 L483.0,54.5 L484.0,53.4 L485.0,56.0 L486.0,54.4 L487.0,54.2 L488.0,55.7 L489.0,57.3 L490.0,56.0 L491.0,59.1 L492.0,58.5 L493.0,57.8 L494.0,56.4 L495.0,58.7 L496.0,57.9 L497.0,60.1 L498.0,58.3 L499.0,61.1 L500.0,62.2 L501.0,60.0 L502.0,61.5 L503.0,62.5 L504.0,60.7 L505.0,60.1 L506.0,61.8 L507.0,60.5 L508.0,60.8 L509.0,60.9 L510.0,62.7 L511.0,62.4 L512.0,62.7 L513.0,64.0 L514.0,62.1 L515.0,63.0 L516.0,62.8 L517.0,63.7 L518.0,62.5 L519.0,63.7 L520.0,63.8 L521.0,65.8 L522.0,63.8 L523.0,65.0 L524.0,64.1 L525.0,64.6 L526.0,63.8 L527.0,64.5 L528.0,65.3 L529.0,64.2 L530.0,64.8 L531.0,65.7 L532.0,67.8 L533.0,65.0 L534.0,65.8 L535.0,65.9 L536.0,65.7 L537.0,65.9 L538.0,65.7 L539.0,67.2 L540.0,67.6 L541.0,66.7 L542.0,66.5 L543.0,66.8 L544.0,66.7 L545.0,68.0 L546.0,67.5 L547.0,68.9 L548.0,67.4 L549.0,68.6 L550.0,69.6 L551.0,68.7 L552.0,69.0 L553.0,68.3 L554.0,69.9 L555.0,69.3 L556.0,68.8 L557.0,68.8 L558.0,69.9 L559.0,69.3 L560.0,69.9 L561.0,71.5 L562.0,70.6 L563.0,69.6 L564.0,69.0 L565.0,71.7 L566.0,72.9 L567.0,71.6 L568.0,71.3 L569.0,70.6 L570.0,71.3 L571.0,72.8 L572.0,71.9 L573.0,74.2 L574.0,72.4 L575.0,72.0 L576.0,73.5 L577.0,73.0 L578.0,72.6 L579.0,73.6 L580.0,73.9 L581.0,73.6 L582.0,74.4 L583.0,72.9 L584.0,77.6 L585.0,74.1 L586.0,75.0 L587.0,74.3 L588.0,74.8 L589.0,74.6 L590.0,76.0 L591.0,76.4 L592.0,75.3 L593.0,75.5 L594.0,76.1 L595.0,76.1 L596.0,76.4 L597.0,75.9 L598.0,75.5 L599.0,75.9 L600.0,78.0 L601.0,77.3 L602.0,75.3 L603.0,77.6 L604.0,78.0 L605.0,79.7 L606.0,78.5 L607.0,79.3 L608.0,79.8 L609.0,79.7 L610.0,81.9 L611.0,82.1 L612.0,81.6 L613.0,82.5 L614.0,82.8 L615.0,85.7 L616.0,85.4 L617.0,85.8 L618.0,86.4 L619.0,87.7 L620.0,88.6 L621.0,89.1 L622.0,90.7 L623.0,92.6 L624.0,92.5 L625.0,94.3 L626.0,94.9 L627.0,94.2 L628.0,94.7 L629.0,95.6 L630.0,97.0 L631.0,97.5 L632.0,98.5 L633.0,97.3 L634.0,96.3" fill="none" stroke="#666" stroke-width="0.5"/>
<path d="M429.0,23.1 L429.0,28.1 M429.8,23.3 L429.8,28.9 M430.5,31.5 L430.5,33.5 M431.2,20.3 L431.2,24.1 M432.0,39.5 L432.0,44.9 M432.8,30.2 L432.8,32.6 M433.5,30.7 L433.5,34.7 M434.2,33.5 L434.2,37.6 M435.0,35.9 L435.0,38.9 M435.8,33.3 L435.8,38.7 M436.5,33.9 L436.5,38.8 M437.2,33.7 L437.2,36.1 M438.0,34.8 L438.0,36.8 M438.8,33.6 L438.8,38.9 M439.5,35.2 L439.5,40.9 M440.2,37.2 L440.2,42.5 M441.0,34.6 L441.0,38.5 M441.8,43.3 L441.8,47.8 M442.5,38.6 L442.5,43.2 M443.2,42.9 L443.2,48.6 M444.0,39.9 L444.0,43.2 M444.8,37.3 L444.8,39.9 M445.5,39.5 L445.5,42.6 M446.2,39.1 L446.2,43.3 M447.0,41.8 L447.0,45.0 M447.8,40.0 L447.8,43.1 M448.5,40.9 L448.5,44.0 M449.2,38.6 L449.2,42.3 M450.0,39.3 L450.0,45.0 M450.8,41.1 L450.8,43.1 M451.5,41.8 L451.5,43.8 M452.2,37.7 L452.2,42.7 M453.0,41.1 L453.0,43.0 M453.8,44.0 L453.8,46.1 M454.5,44.1 L454.5,46.8 M455.2,45.1 L455.2,49.9 M456.0,46.0 L456.0,49.3 M456.8,41.5 L456.8,44.8 M457.5,41.2 L457.5,43.6 M458.2,42.4 L458.2,47.2 M459.0,45.3 L459.0,47.4 M459.8,40.1 L459.8,45.7 M460.5,45.0 L460.5,49.3 M461.2,44.3 L461.2,49.7 M462.0,42.7 L462.0,46.7 M462.8,48.1 L462.8,51.2 M463.5,45.6 L463.5,47.8 M464.2,47.0 L464.2,49.4 M465.0,44.4 L465.0,47.0 M465.8,42.1 L465.8,44.2 M466.5,48.3 L466.5,51.7 M467.2,46.8 L467.2,49.7 M468.0,44.5 L468.0,48.2 M468.8,45.6 L468.8,49.2 M469.5,51.3 L469.5,53.4 M470.2,48.7 L470.2,52.5 M471.0,47.8 L471.0,52.5 M471.8,46.6 L471.8,52.1 M472.5,47.3 L472.5,49.6 M473.2,46.8 L473.2,50.4 M474.0,51.0 L474.0,54.1 M474.8,51.6 L474.8,55.3 M475.5,51.5 L475.5,57.1 M476.2,49.8 L476.2,53.5 M477.0,47.6 L477.0,51.4 M477.8,50.8 L477.8,53.9 M478.5,50.1 L478.5,53.4 M479.2,50.3 L479.2,56.1 M480.0,53.0 L480.0,55.4 M481.0,52.0 L481.0,54.0 M482.0,52.8 L482.0,55.9 M483.0,52.8 L483.0,56.1 M484.0,51.9 L484.0,55.0 M485.0,54.6 L485.0,57.4 M486.0,53.3 L486.0,55.4 M487.0,52.8 L487.0,55.7 M488.0,54.2 L488.0,57.2 M489.0,55.8 L489.0,58.7 M490.0,54.6 L490.0,57.4 M491.0,57.8 L491.0,60.4 M492.0,57.6 L492.0,59.4 M493.0,56.4 L493.0,59.2 M494.0,55.0 L494.0,57.8 M495.0,57.2 L495.0,60.3 M496.0,56.5 L496.0,59.4 M497.0,58.5 L497.0,61.7 M498.0,56.7 L498.0,60.0 M499.0,59.7 L499.0,62.5 M500.0,61.0 L500.0,63.5 M501.0,58.8 L501.0,61.2 M502.0,59.8 L502.0,63.3 M503.0,61.3 L503.0,63.7 M504.0,59.3 L504.0,62.2 M505.0,59.3 L505.0,60.9 M506.0,60.4 L506.0,63.2 M507.0,59.4 L507.0,61.7 M508.0,59.4 L508.0,62.1 M509.0,59.5 L509.0,62.4 M510.0,61.6 L510.0,63.8 M511.0,61.0 L511.0,63.8 M512.0,61.4 L512.0,64.1 M513.0,63.3 L513.0,64.6 M514.0,61.5 L514.0,62.8 M515.0,62.3 L515.0,63.8 M516.0,62.0 L516.0,63.7 M517.0,63.1 L517.0,64.4 M518.0,61.2 L518.0,63.9 M519.0,62.4 L519.0,65.0 M520.0,63.2 L520.0,64.4 M521.0,64.7 L521.0,66.9 M522.0,63.1 L522.0,64.6 M523.0,63.4 L523.0,66.6 M524.0,62.8 L524.0,65.4 M525.0,63.9 L525.0,65.3 M526.0,62.5 L526.0,65.1 M527.0,62.8 L527.0,66.3 M528.0,63.7 L528.0,66.9 M529.0,62.8 L529.0,65.6 M530.0,63.5 L530.0,66.2 M531.0,64.4 L531.0,67.0 M532.0,66.4 L532.0,69.1 M533.0,64.0 L533.0,66.0 M534.0,65.1 L534.0,66.6 M535.0,64.6 L535.0,67.2 M536.0,64.4 L536.0,67.1 M537.0,64.2 L537.0,67.6 M538.0,64.8 L538.0,66.6 M539.0,66.3 L539.0,68.2 M540.0,65.8 L540.0,69.3 M541.0,65.0 L541.0,68.4 M542.0,64.7 L542.0,68.3 M543.0,65.6 L543.0,68.0 M544.0,64.9 L544.0,68.5 M545.0,66.8 L545.0,69.2 M546.0,66.8 L546.0,68.3 M547.0,67.6 L547.0,70.3 M548.0,65.9 L548.0,69.0 M549.0,67.0 L549.0,70.2 M550.0,68.7 L550.0,70.5 M551.0,67.0 L551.0,70.5 M552.0,68.0 L552.0,69.9 M553.0,67.6 L553.0,69.1 M554.0,68.6 L554.0,71.3 M555.0,68.1 L555.0,70.5 M556.0,67.3 L556.0,70.3 M557.0,68.0 L557.0,69.5 M558.0,68.7 L558.0,71.2 M559.0,68.3 L559.0,70.3 M560.0,68.8 L560.0,71.1 M561.0,70.5 L561.0,72.5 M562.0,69.9 L562.0,71.2 M563.0,68.7 L563.0,70.5 M564.0,67.4 L564.0,70.7 M565.0,70.4 L565.0,72.9 M566.0,71.8 L566.0,74.0 M567.0,70.3 L567.0,72.9 M568.0,70.2 L568.0,72.5 M569.0,68.9 L569.0,72.3 M570.0,69.7 L570.0,73.0 M571.0,72.0 L571.0,73.6 M572.0,71.2 L572.0,72.6 M573.0,72.6 L573.0,75.8 M574.0,71.5 L574.0,73.4 M575.0,70.5 L575.0,73.5 M576.0,72.3 L576.0,74.7 M577.0,71.7 L577.0,74.3 M578.0,71.9 L578.0,73.4 M579.0,72.3 L579.0,74.9 M580.0,73.1 L580.0,74.8 M581.0,72.0 L581.0,75.2 M582.0,73.8 L582.0,75.1 M583.0,71.5 L583.0,74.4 M584.0,76.1 L584.0,79.0 M585.0,73.4 L585.0,74.7 M586.0,73.6 L586.0,76.4 M587.0,72.5 L587.0,76.0 M588.0,73.9 L588.0,75.8 M589.0,72.9 L589.0,76.3 M590.0,74.9 L590.0,77.1 M591.0,75.6 L591.0,77.2 M592.0,74.6 L592.0,76.1 M593.0,74.4 L593.0,76.5 M594.0,74.8 L594.0,77.4 M595.0,74.6 L595.0,77.6 M596.0,75.3 L596.0,77.6 M597.0,74.9 L597.0,76.9 M598.0,73.8 L598.0,77.3 M599.0,74.9 L599.0,76.9 M600.0,77.2 L600.0,78.7 M601.0,75.9 L601.0,78.6 M602.0,74.0 L602.0,76.5 M603.0,76.2 L603.0,78.9 M604.0,77.1 L604.0,78.9 M605.0,78.2 L605.0,81.2 M606.0,77.6 L606.0,79.4 M607.0,78.3 L607.0,80.4 M608.0,78.3 L608.0,81.2 M609.0,78.3 L609.0,81.1 M610.0,81.2 L610.0,82.6 M611.0,81.4 L611.0,82.9 M612.0,79.9 L612.0,83.2 M613.0,81.3 L613.0,83.7 M614.0,82.2 L614.0,83.5 M615.0,84.2 L615.0,87.2 M616.0,83.7 L616.0,87.2 M617.0,84.4 L617.0,87.2 M618.0,84.7 L618.0,88.2 M619.0,86.3 L619.0,89.1 M620.0,87.2 L620.0,89.9 M621.0,88.0 L621.0,90.1 M622.0,89.4 L622.0,92.0 M623.0,91.5 L623.0,93.6 M624.0,90.9 L624.0,94.1 M625.0,92.9 L625.0,95.7 M626.0,93.3 L626.0,96.5 M627.0,93.0 L627.0,95.4 M628.0,93.2 L628.0,96.2 M629.0,94.5 L629.0,96.6 M630.0,96.1 L630.0,97.8 M631.0,96.8 L631.0,98.1 M632.0,97.0 L632.0,100.0 M633.0,96.7 L633.0,97.9 M634.0,95.0 L634.0,97.6" fill="none" stroke="#555" stroke-width="0.5"/>
<rect x="428.4" y="25.0" width="1.1" height="1.1" fill="#222"/>
<rect x="429.9" y="31.9" width="1.1" height="1.1" fill="#222"/>
<rect x="431.4" y="41.6" width="1.1" height="1.1" fill="#222"/>
<rect x="432.9" y="32.1" width="1.1" height="1.1" fill="#222"/>
<rect x="434.4" y="36.9" width="1.1" height="1.1" fill="#222"/>
<rect x="435.9" y="35.8" width="1.1" height="1.1" fill="#222"/>
<rect x="437.4" y="35.3" width="1.1" height="1.1" fill="#222"/>
<rect x="438.9" y="37.5" width="1.1" height="1.1" fill="#222"/>
<rect x="440.4" y="36.0" width="1.1" height="1.1" fill="#222"/>
<rect x="441.9" y="40.3" width="1.1" height="1.1" fill="#222"/>
<rect x="443.4" y="41.0" width="1.1" height="1.1" fill="#222"/>
<rect x="444.9" y="40.5" width="1.1" height="1.1" fill="#222"/>
<rect x="446.4" y="42.8" width="1.1" height="1.1" fill="#222"/>
<rect x="447.9" y="41.9" width="1.1" height="1.1" fill="#222"/>
<rect x="449.4" y="41.6" width="1.1" height="1.1" fill="#222"/>
<rect x="450.9" y="42.3" width="1.1" height="1.1" fill="#222"/>
<rect x="452.4" y="41.5" width="1.1" height="1.1" fill="#222"/>
<rect x="453.9" y="44.9" width="1.1" height="1.1" fill="#222"/>
<rect x="455.4" y="47.1" width="1.1" height="1.1" fill="#222"/>
<rect x="456.9" y="41.8" width="1.1" height="1.1" fill="#222"/>
<rect x="458.4" y="45.8" width="1.1" height="1.1" fill="#222"/>
<rect x="459.9" y="46.6" width="1.1" height="1.1" fill="#222"/>
<rect x="461.4" y="44.2" width="1.1" height="1.1" fill="#222"/>
<rect x="462.9" y="46.1" width="1.1" height="1.1" fill="#222"/>
<rect x="464.4" y="45.2" width="1.1" height="1.1" fill="#222"/>
<rect x="465.9" y="49.4" width="1.1" height="1.1" fill="#222"/>
<rect x="467.4" y="45.8" width="1.1" height="1.1" fill="#222"/>
<rect x="468.9" y="51.8" width="1.1" height="1.1" fill="#222"/>
<rect x="470.4" y="49.6" width="1.1" height="1.1" fill="#222"/>
<rect x="471.9" y="47.9" width="1.1" height="1.1" fill="#222"/>
<rect x="473.4" y="52.0" width="1.1" height="1.1" fill="#222"/>
<rect x="474.9" y="53.8" width="1.1" height="1.1" fill="#222"/>
<rect x="476.4" y="48.9" width="1.1" height="1.1" fill="#222"/>
<rect x="477.9" y="51.2" width="1.1" height="1.1" fill="#222"/>
<rect x="479.4" y="53.7" width="1.1" height="1.1" fill="#222"/>
<rect x="481.4" y="53.8" width="1.1" height="1.1" fill="#222"/>
<rect x="483.4" y="52.9" width="1.1" height="1.1" fill="#222"/>
<rect x="485.4" y="53.8" width="1.1" height="1.1" fill="#222"/>
<rect x="487.4" y="55.1" width="1.1" height="1.1" fill="#222"/>
<rect x="489.4" y="55.5" width="1.1" height="1.1" fill="#222"/>
<rect x="491.4" y="57.9" width="1.1" height="1.1" fill="#222"/>
<rect x="493.4" y="55.9" width="1.1" height="1.1" fill="#222"/>
<rect x="495.4" y="57.4" width="1.1" height="1.1" fill="#222"/>
<rect x="497.4" y="57.8" width="1.1" height="1.1" fill="#222"/>
<rect x="499.4" y="61.7" width="1.1" height="1.1" fill="#222"/>
<rect x="501.4" y="61.0" width="1.1" height="1.1" fill="#222"/>
<rect x="503.4" y="60.2" width="1.1" height="1.1" fill="#222"/>
<rect x="505.4" y="61.2" width="1.1" height="1.1" fill="#222"/>
<rect x="507.4" y="60.2" width="1.1" height="1.1" fill="#222"/>
<rect x="509.4" y="62.1" width="1.1" height="1.1" fill="#222"/>
<rect x="511.4" y="62.2" width="1.1" height="1.1" fill="#222"/>
<rect x="513.5" y="61.6" width="1.1" height="1.1" fill="#222"/>
<rect x="515.5" y="62.3" width="1.1" height="1.1" fill="#222"/>
<rect x="517.5" y="62.0" width="1.1" height="1.1" fill="#222"/>
<rect x="519.5" y="63.3" width="1.1" height="1.1" fill="#222"/>
<rect x="521.5" y="63.3" width="1.1" height="1.1" fill="#222"/>
<rect x="523.5" y="63.6" width="1.1" height="1.1" fill="#222"/>
<rect x="525.5" y="63.2" width="1.1" height="1.1" fill="#222"/>
<rect x="527.5" y="64.7" width="1.1" height="1.1" fill="#222"/>
<rect x="529.5" y="64.3" width="1.1" height="1.1" fill="#222"/>
<rect x="531.5" y="67.2" width="1.1" height="1.1" fill="#222"/>
<rect x="533.5" y="65.3" width="1.1" height="1.1" fill="#222"/>
<rect x="535.5" y="65.2" width="1.1" height="1.1" fill="#222"/>
<rect x="537.5" y="65.2" width="1.1" height="1.1" fill="#222"/>
<rect x="539.5" y="67.0" width="1.1" height="1.1" fill="#222"/>
<rect x="541.5" y="65.9" width="1.1" height="1.1" fill="#222"/>
<rect x="543.5" y="66.2" width="1.1" height="1.1" fill="#222"/>
<rect x="545.5" y="67.0" width="1.1" height="1.1" fill="#222"/>
<rect x="547.5" y="66.9" width="1.1" height="1.1" fill="#222"/>
<rect x="549.5" y="69.0" width="1.1" height="1.1" fill="#222"/>
<rect x="551.5" y="68.4" width="1.1" height="1.1" fill="#222"/>
<rect x="553.5" y="69.4" width="1.1" height="1.1" fill="#222"/>
<rect x="555.5" y="68.2" width="1.1" height="1.1" fill="#222"/>
<rect x="557.5" y="69.4" width="1.1" height="1.1" fill="#222"/>
<rect x="559.5" y="69.4" width="1.1" height="1.1" fill="#222"/>
<rect x="561.5" y="70.0" width="1.1" height="1.1" fill="#222"/>
<rect x="563.5" y="68.5" width="1.1" height="1.1" fill="#222"/>
<rect x="565.5" y="72.3" width="1.1" height="1.1" fill="#222"/>
<rect x="567.5" y="70.8" width="1.1" height="1.1" fill="#222"/>
<rect x="569.5" y="70.8" width="1.1" height="1.1" fill="#222"/>
<rect x="571.5" y="71.3" width="1.1" height="1.1" fill="#222"/>
<rect x="573.5" y="71.9" width="1.1" height="1.1" fill="#222"/>
<rect x="575.5" y="73.0" width="1.1" height="1.1" fill="#222"/>
<rect x="577.5" y="72.1" width="1.1" height="1.1" fill="#222"/>
<rect x="579.5" y="73.4" width="1.1" height="1.1" fill="#222"/>
<rect x="581.5" y="73.9" width="1.1" height="1.1" fill="#222"/>
<rect x="583.5" y="77.0" width="1.1" height="1.1" fill="#222"/>
<rect x="585.5" y="74.5" width="1.1" height="1.1" fill="#222"/>
<rect x="587.5" y="74.3" width="1.1" height="1.1" fill="#222"/>
<rect x="589.5" y="75.4" width="1.1" height="1.1" fill="#222"/>
<rect x="591.5" y="74.8" width="1.1" height="1.1" fill="#222"/>
<rect x="593.5" y="75.5" width="1.1" height="1.1" fill="#222"/>
<rect x="595.5" y="75.9" width="1.1" height="1.1" fill="#222"/>
<rect x="597.5" y="75.0" width="1.1" height="1.1" fill="#222"/>
<rect x="599.5" y="77.4" width="1.1" height="1.1" fill="#222"/>
<rect x="601.5" y="74.7" width="1.1" height="1.1" fill="#222"/>
<rect x="603.5" y="77.5" width="1.1" height="1.1" fill="#222"/>
<rect x="605.5" y="77.9" width="1.1" height="1.1" fill="#222"/>
<rect x="607.5" y="79.2" width="1.1" height="1.1" fill="#222"/>
<rect x="609.5" y="81.3" width="1.1" height="1.1" fill="#222"/>
<rect x="611.5" y="81.0" width="1.1" height="1.1" fill="#222"/>
<rect x="613.5" y="82.3" width="1.1" height="1.1" fill="#222"/>
<rect x="615.5" y="84.9" width="1.1" height="1.1" fill="#222"/>
<rect x="617.5" y="85.9" width="1.1" height="1.1" fill="#222"/>
<rect x="619.5" y="88.0" width="1.1" height="1.1" fill="#222"/>
<rect x="621.5" y="90.2" width="1.1" height="1.1" fill="#222"/>
<rect x="623.5" y="92.0" width="1.1" height="1.1" fill="#222"/>
<rect x="625.5" y="94.3" width="1.1" height="1.1" fill="#222"/>
<rect x="627.5" y="94.1" width="1.1" height="1.1" fill="#222"/>
<rect x="629.5" y="96.4" width="1.1" height="1.1" fill="#222"/>
<rect x="631.5" y="98.0" width="1.1" height="1.1" fill="#222"/>
<rect x="633.5" y="95.7" width="1.1" height="1.1" fill="#222"/>
<line x1="429.40" y1="22.00" x2="429.40" y2="40.00" stroke="#333" stroke-width="0.7" />
<line x1="430.40" y1="23.00" x2="430.40" y2="37.00" stroke="#333" stroke-width="0.7" />
<line x1="431.30" y1="22.50" x2="431.30" y2="34.00" stroke="#333" stroke-width="0.7" />
<line x1="432.20" y1="26.00" x2="432.20" y2="41.00" stroke="#333" stroke-width="0.7" />
<line x1="433.40" y1="28.00" x2="433.40" y2="39.00" stroke="#333" stroke-width="0.7" />
<line x1="444.60" y1="62.90" x2="444.60" y2="70.00" stroke="#e86060" stroke-width="0.8" />
<line x1="443.60" y1="62.90" x2="445.60" y2="62.90" stroke="#ee8080" stroke-width="0.6" />
<line x1="443.60" y1="70.00" x2="445.60" y2="70.00" stroke="#ee8080" stroke-width="0.6" />
<rect x="443.8" y="65.7" width="1.6" height="1.6" fill="#e03030"/>
<line x1="446.70" y1="41.60" x2="446.70" y2="45.50" stroke="#e86060" stroke-width="0.8" />
<line x1="445.70" y1="41.60" x2="447.70" y2="41.60" stroke="#ee8080" stroke-width="0.6" />
<line x1="445.70" y1="45.50" x2="447.70" y2="45.50" stroke="#ee8080" stroke-width="0.6" />
<rect x="445.9" y="42.8" width="1.6" height="1.6" fill="#e03030"/>
<line x1="447.50" y1="59.00" x2="447.50" y2="70.80" stroke="#e86060" stroke-width="0.8" />
<line x1="446.50" y1="59.00" x2="448.50" y2="59.00" stroke="#ee8080" stroke-width="0.6" />
<line x1="446.50" y1="70.80" x2="448.50" y2="70.80" stroke="#ee8080" stroke-width="0.6" />
<rect x="446.7" y="64.1" width="1.6" height="1.6" fill="#e03030"/>
<line x1="449.40" y1="52.60" x2="449.40" y2="62.90" stroke="#e86060" stroke-width="0.8" />
<line x1="448.40" y1="52.60" x2="450.40" y2="52.60" stroke="#ee8080" stroke-width="0.6" />
<line x1="448.40" y1="62.90" x2="450.40" y2="62.90" stroke="#ee8080" stroke-width="0.6" />
<rect x="448.6" y="57.0" width="1.6" height="1.6" fill="#e03030"/>
<line x1="453.00" y1="47.10" x2="453.00" y2="52.60" stroke="#e86060" stroke-width="0.8" />
<line x1="452.00" y1="47.10" x2="454.00" y2="47.10" stroke="#ee8080" stroke-width="0.6" />
<line x1="452.00" y1="52.60" x2="454.00" y2="52.60" stroke="#ee8080" stroke-width="0.6" />
<rect x="452.2" y="49.1" width="1.6" height="1.6" fill="#e03030"/>
<line x1="453.00" y1="57.40" x2="453.00" y2="66.00" stroke="#e86060" stroke-width="0.8" />
<line x1="452.00" y1="57.40" x2="454.00" y2="57.40" stroke="#ee8080" stroke-width="0.6" />
<line x1="452.00" y1="66.00" x2="454.00" y2="66.00" stroke="#ee8080" stroke-width="0.6" />
<rect x="452.2" y="60.9" width="1.6" height="1.6" fill="#e03030"/>
<line x1="454.60" y1="55.80" x2="454.60" y2="66.90" stroke="#e86060" stroke-width="0.8" />
<line x1="453.60" y1="55.80" x2="455.60" y2="55.80" stroke="#ee8080" stroke-width="0.6" />
<line x1="453.60" y1="66.90" x2="455.60" y2="66.90" stroke="#ee8080" stroke-width="0.6" />
<rect x="453.8" y="60.6" width="1.6" height="1.6" fill="#e03030"/>
<line x1="456.20" y1="60.50" x2="456.20" y2="67.60" stroke="#e86060" stroke-width="0.8" />
<line x1="455.20" y1="60.50" x2="457.20" y2="60.50" stroke="#ee8080" stroke-width="0.6" />
<line x1="455.20" y1="67.60" x2="457.20" y2="67.60" stroke="#ee8080" stroke-width="0.6" />
<rect x="455.4" y="63.2" width="1.6" height="1.6" fill="#e03030"/>
<line x1="462.50" y1="57.40" x2="462.50" y2="65.30" stroke="#e86060" stroke-width="0.8" />
<line x1="461.50" y1="57.40" x2="463.50" y2="57.40" stroke="#ee8080" stroke-width="0.6" />
<line x1="461.50" y1="65.30" x2="463.50" y2="65.30" stroke="#ee8080" stroke-width="0.6" />
<rect x="461.7" y="60.5" width="1.6" height="1.6" fill="#e03030"/>
<line x1="465.20" y1="51.00" x2="465.20" y2="61.30" stroke="#e86060" stroke-width="0.8" />
<line x1="464.20" y1="51.00" x2="466.20" y2="51.00" stroke="#ee8080" stroke-width="0.6" />
<line x1="464.20" y1="61.30" x2="466.20" y2="61.30" stroke="#ee8080" stroke-width="0.6" />
<rect x="464.4" y="55.4" width="1.6" height="1.6" fill="#e03030"/>
<line x1="473.50" y1="59.00" x2="473.50" y2="63.70" stroke="#e86060" stroke-width="0.8" />
<line x1="472.50" y1="59.00" x2="474.50" y2="59.00" stroke="#ee8080" stroke-width="0.6" />
<line x1="472.50" y1="63.70" x2="474.50" y2="63.70" stroke="#ee8080" stroke-width="0.6" />
<rect x="472.7" y="60.6" width="1.6" height="1.6" fill="#e03030"/>
<line x1="474.60" y1="62.10" x2="474.60" y2="66.00" stroke="#e86060" stroke-width="0.8" />
<line x1="473.60" y1="62.10" x2="475.60" y2="62.10" stroke="#ee8080" stroke-width="0.6" />
<line x1="473.60" y1="66.00" x2="475.60" y2="66.00" stroke="#ee8080" stroke-width="0.6" />
<rect x="473.8" y="63.2" width="1.6" height="1.6" fill="#e03030"/>
<line x1="477.20" y1="66.00" x2="477.20" y2="70.80" stroke="#e86060" stroke-width="0.8" />
<line x1="476.20" y1="66.00" x2="478.20" y2="66.00" stroke="#ee8080" stroke-width="0.6" />
<line x1="476.20" y1="70.80" x2="478.20" y2="70.80" stroke="#ee8080" stroke-width="0.6" />
<rect x="476.4" y="67.6" width="1.6" height="1.6" fill="#e03030"/>
<line x1="488.60" y1="62.10" x2="488.60" y2="68.40" stroke="#e86060" stroke-width="0.8" />
<line x1="487.60" y1="62.10" x2="489.60" y2="62.10" stroke="#ee8080" stroke-width="0.6" />
<line x1="487.60" y1="68.40" x2="489.60" y2="68.40" stroke="#ee8080" stroke-width="0.6" />
<rect x="487.8" y="64.5" width="1.6" height="1.6" fill="#e03030"/>
<line x1="491.40" y1="71.60" x2="491.40" y2="76.30" stroke="#e86060" stroke-width="0.8" />
<line x1="490.40" y1="71.60" x2="492.40" y2="71.60" stroke="#ee8080" stroke-width="0.6" />
<line x1="490.40" y1="76.30" x2="492.40" y2="76.30" stroke="#ee8080" stroke-width="0.6" />
<rect x="490.6" y="73.1" width="1.6" height="1.6" fill="#e03030"/>
<line x1="492.50" y1="51.00" x2="492.50" y2="57.40" stroke="#e86060" stroke-width="0.8" />
<line x1="491.50" y1="51.00" x2="493.50" y2="51.00" stroke="#ee8080" stroke-width="0.6" />
<line x1="491.50" y1="57.40" x2="493.50" y2="57.40" stroke="#ee8080" stroke-width="0.6" />
<rect x="491.7" y="53.4" width="1.6" height="1.6" fill="#e03030"/>
<line x1="503.60" y1="66.90" x2="503.60" y2="71.60" stroke="#e86060" stroke-width="0.8" />
<line x1="502.60" y1="66.90" x2="504.60" y2="66.90" stroke="#ee8080" stroke-width="0.6" />
<line x1="502.60" y1="71.60" x2="504.60" y2="71.60" stroke="#ee8080" stroke-width="0.6" />
<rect x="502.8" y="68.5" width="1.6" height="1.6" fill="#e03030"/>
<line x1="506.20" y1="67.60" x2="506.20" y2="74.00" stroke="#e86060" stroke-width="0.8" />
<line x1="505.20" y1="67.60" x2="507.20" y2="67.60" stroke="#ee8080" stroke-width="0.6" />
<line x1="505.20" y1="74.00" x2="507.20" y2="74.00" stroke="#ee8080" stroke-width="0.6" />
<rect x="505.4" y="70.0" width="1.6" height="1.6" fill="#e03030"/>
<line x1="514.80" y1="66.70" x2="514.80" y2="71.30" stroke="#e86060" stroke-width="0.8" />
<line x1="513.80" y1="66.70" x2="515.80" y2="66.70" stroke="#ee8080" stroke-width="0.6" />
<line x1="513.80" y1="71.30" x2="515.80" y2="71.30" stroke="#ee8080" stroke-width="0.6" />
<rect x="514.0" y="68.2" width="1.6" height="1.6" fill="#e03030"/>
<line x1="520.50" y1="71.30" x2="520.50" y2="75.80" stroke="#e86060" stroke-width="0.8" />
<line x1="519.50" y1="71.30" x2="521.50" y2="71.30" stroke="#ee8080" stroke-width="0.6" />
<line x1="519.50" y1="75.80" x2="521.50" y2="75.80" stroke="#ee8080" stroke-width="0.6" />
<rect x="519.7" y="72.8" width="1.6" height="1.6" fill="#e03030"/>
<line x1="522.80" y1="74.70" x2="522.80" y2="80.40" stroke="#e86060" stroke-width="0.8" />
<line x1="521.80" y1="74.70" x2="523.80" y2="74.70" stroke="#ee8080" stroke-width="0.6" />
<line x1="521.80" y1="80.40" x2="523.80" y2="80.40" stroke="#ee8080" stroke-width="0.6" />
<rect x="522.0" y="76.8" width="1.6" height="1.6" fill="#e03030"/>
<line x1="538.70" y1="71.30" x2="538.70" y2="77.00" stroke="#e86060" stroke-width="0.8" />
<line x1="537.70" y1="71.30" x2="539.70" y2="71.30" stroke="#ee8080" stroke-width="0.6" />
<line x1="537.70" y1="77.00" x2="539.70" y2="77.00" stroke="#ee8080" stroke-width="0.6" />
<rect x="537.9" y="73.4" width="1.6" height="1.6" fill="#e03030"/>
<line x1="541.00" y1="74.70" x2="541.00" y2="78.00" stroke="#e86060" stroke-width="0.8" />
<line x1="540.00" y1="74.70" x2="542.00" y2="74.70" stroke="#ee8080" stroke-width="0.6" />
<line x1="540.00" y1="78.00" x2="542.00" y2="78.00" stroke="#ee8080" stroke-width="0.6" />
<rect x="540.2" y="75.5" width="1.6" height="1.6" fill="#e03030"/>
<line x1="545.60" y1="78.00" x2="545.60" y2="82.60" stroke="#e86060" stroke-width="0.8" />
<line x1="544.60" y1="78.00" x2="546.60" y2="78.00" stroke="#ee8080" stroke-width="0.6" />
<line x1="544.60" y1="82.60" x2="546.60" y2="82.60" stroke="#ee8080" stroke-width="0.6" />
<rect x="544.8" y="79.5" width="1.6" height="1.6" fill="#e03030"/>
<line x1="554.70" y1="80.40" x2="554.70" y2="83.80" stroke="#e86060" stroke-width="0.8" />
<line x1="553.70" y1="80.40" x2="555.70" y2="80.40" stroke="#ee8080" stroke-width="0.6" />
<line x1="553.70" y1="83.80" x2="555.70" y2="83.80" stroke="#ee8080" stroke-width="0.6" />
<rect x="553.9" y="81.3" width="1.6" height="1.6" fill="#e03030"/>
<line x1="566.00" y1="80.00" x2="566.00" y2="84.00" stroke="#e86060" stroke-width="0.8" />
<line x1="565.00" y1="80.00" x2="567.00" y2="80.00" stroke="#ee8080" stroke-width="0.6" />
<line x1="565.00" y1="84.00" x2="567.00" y2="84.00" stroke="#ee8080" stroke-width="0.6" />
<rect x="565.2" y="81.2" width="1.6" height="1.6" fill="#e03030"/>
<line x1="562.00" y1="82.00" x2="562.00" y2="85.10" stroke="#e86060" stroke-width="0.8" />
<line x1="561.00" y1="82.00" x2="563.00" y2="82.00" stroke="#ee8080" stroke-width="0.6" />
<line x1="561.00" y1="85.10" x2="563.00" y2="85.10" stroke="#ee8080" stroke-width="0.6" />
<rect x="561.2" y="82.8" width="1.6" height="1.6" fill="#e03030"/>
<line x1="576.00" y1="83.90" x2="576.00" y2="88.20" stroke="#e86060" stroke-width="0.8" />
<line x1="575.00" y1="83.90" x2="577.00" y2="83.90" stroke="#ee8080" stroke-width="0.6" />
<line x1="575.00" y1="88.20" x2="577.00" y2="88.20" stroke="#ee8080" stroke-width="0.6" />
<rect x="575.2" y="85.3" width="1.6" height="1.6" fill="#e03030"/>
<line x1="577.00" y1="82.50" x2="577.00" y2="87.00" stroke="#e86060" stroke-width="0.8" />
<line x1="576.00" y1="82.50" x2="578.00" y2="82.50" stroke="#ee8080" stroke-width="0.6" />
<line x1="576.00" y1="87.00" x2="578.00" y2="87.00" stroke="#ee8080" stroke-width="0.6" />
<rect x="576.2" y="84.0" width="1.6" height="1.6" fill="#e03030"/>
<line x1="589.00" y1="83.90" x2="589.00" y2="88.20" stroke="#e86060" stroke-width="0.8" />
<line x1="588.00" y1="83.90" x2="590.00" y2="83.90" stroke="#ee8080" stroke-width="0.6" />
<line x1="588.00" y1="88.20" x2="590.00" y2="88.20" stroke="#ee8080" stroke-width="0.6" />
<rect x="588.2" y="85.3" width="1.6" height="1.6" fill="#e03030"/>
<line x1="591.00" y1="84.50" x2="591.00" y2="88.00" stroke="#e86060" stroke-width="0.8" />
<line x1="590.00" y1="84.50" x2="592.00" y2="84.50" stroke="#ee8080" stroke-width="0.6" />
<line x1="590.00" y1="88.00" x2="592.00" y2="88.00" stroke="#ee8080" stroke-width="0.6" />
<rect x="590.2" y="85.5" width="1.6" height="1.6" fill="#e03030"/>
<line x1="600.00" y1="86.50" x2="600.00" y2="90.00" stroke="#e86060" stroke-width="0.8" />
<line x1="599.00" y1="86.50" x2="601.00" y2="86.50" stroke="#ee8080" stroke-width="0.6" />
<line x1="599.00" y1="90.00" x2="601.00" y2="90.00" stroke="#ee8080" stroke-width="0.6" />
<rect x="599.2" y="87.5" width="1.6" height="1.6" fill="#e03030"/>
<line x1="612.00" y1="90.00" x2="612.00" y2="93.00" stroke="#e86060" stroke-width="0.8" />
<line x1="611.00" y1="90.00" x2="613.00" y2="90.00" stroke="#ee8080" stroke-width="0.6" />
<line x1="611.00" y1="93.00" x2="613.00" y2="93.00" stroke="#ee8080" stroke-width="0.6" />
<rect x="611.2" y="90.7" width="1.6" height="1.6" fill="#e03030"/>
<line x1="624.00" y1="94.50" x2="624.00" y2="97.50" stroke="#e86060" stroke-width="0.8" />
<line x1="623.00" y1="94.50" x2="625.00" y2="94.50" stroke="#ee8080" stroke-width="0.6" />
<line x1="623.00" y1="97.50" x2="625.00" y2="97.50" stroke="#ee8080" stroke-width="0.6" />
<rect x="623.2" y="95.2" width="1.6" height="1.6" fill="#e03030"/>
<line x1="434.00" y1="21.80" x2="434.00" y2="23.70" stroke="#6060e0" stroke-width="0.8" />
<line x1="433.00" y1="21.80" x2="435.00" y2="21.80" stroke="#8080ee" stroke-width="0.6" />
<line x1="433.00" y1="23.70" x2="435.00" y2="23.70" stroke="#8080ee" stroke-width="0.6" />
<rect x="433.2" y="21.9" width="1.6" height="1.6" fill="#3030d0"/>
<line x1="444.90" y1="21.30" x2="444.90" y2="25.10" stroke="#6060e0" stroke-width="0.8" />
<line x1="443.90" y1="21.30" x2="445.90" y2="21.30" stroke="#8080ee" stroke-width="0.6" />
<line x1="443.90" y1="25.10" x2="445.90" y2="25.10" stroke="#8080ee" stroke-width="0.6" />
<rect x="444.1" y="22.4" width="1.6" height="1.6" fill="#3030d0"/>
<line x1="447.30" y1="23.70" x2="447.30" y2="37.00" stroke="#6060e0" stroke-width="0.8" />
<line x1="446.30" y1="23.70" x2="448.30" y2="23.70" stroke="#8080ee" stroke-width="0.6" />
<line x1="446.30" y1="37.00" x2="448.30" y2="37.00" stroke="#8080ee" stroke-width="0.6" />
<rect x="446.5" y="29.6" width="1.6" height="1.6" fill="#3030d0"/>
<line x1="449.80" y1="23.20" x2="449.80" y2="33.20" stroke="#6060e0" stroke-width="0.8" />
<line x1="448.80" y1="23.20" x2="450.80" y2="23.20" stroke="#8080ee" stroke-width="0.6" />
<line x1="448.80" y1="33.20" x2="450.80" y2="33.20" stroke="#8080ee" stroke-width="0.6" />
<rect x="449.0" y="27.4" width="1.6" height="1.6" fill="#3030d0"/>
<line x1="453.00" y1="21.30" x2="453.00" y2="32.20" stroke="#6060e0" stroke-width="0.8" />
<line x1="452.00" y1="21.30" x2="454.00" y2="21.30" stroke="#8080ee" stroke-width="0.6" />
<line x1="452.00" y1="32.20" x2="454.00" y2="32.20" stroke="#8080ee" stroke-width="0.6" />
<rect x="452.2" y="25.9" width="1.6" height="1.6" fill="#3030d0"/>
<line x1="456.30" y1="24.60" x2="456.30" y2="31.30" stroke="#6060e0" stroke-width="0.8" />
<line x1="455.30" y1="24.60" x2="457.30" y2="24.60" stroke="#8080ee" stroke-width="0.6" />
<line x1="455.30" y1="31.30" x2="457.30" y2="31.30" stroke="#8080ee" stroke-width="0.6" />
<rect x="455.5" y="27.2" width="1.6" height="1.6" fill="#3030d0"/>
<line x1="462.40" y1="21.30" x2="462.40" y2="23.50" stroke="#6060e0" stroke-width="0.8" />
<line x1="461.40" y1="21.30" x2="463.40" y2="21.30" stroke="#8080ee" stroke-width="0.6" />
<line x1="461.40" y1="23.50" x2="463.40" y2="23.50" stroke="#8080ee" stroke-width="0.6" />
<rect x="461.6" y="21.6" width="1.6" height="1.6" fill="#3030d0"/>
<line x1="465.80" y1="30.30" x2="465.80" y2="36.50" stroke="#6060e0" stroke-width="0.8" />
<line x1="464.80" y1="30.30" x2="466.80" y2="30.30" stroke="#8080ee" stroke-width="0.6" />
<line x1="464.80" y1="36.50" x2="466.80" y2="36.50" stroke="#8080ee" stroke-width="0.6" />
<rect x="465.0" y="32.6" width="1.6" height="1.6" fill="#3030d0"/>
<line x1="474.30" y1="26.50" x2="474.30" y2="31.70" stroke="#6060e0" stroke-width="0.8" />
<line x1="473.30" y1="26.50" x2="475.30" y2="26.50" stroke="#8080ee" stroke-width="0.6" />
<line x1="473.30" y1="31.70" x2="475.30" y2="31.70" stroke="#8080ee" stroke-width="0.6" />
<rect x="473.5" y="28.3" width="1.6" height="1.6" fill="#3030d0"/>
<line x1="473.30" y1="35.00" x2="473.30" y2="38.90" stroke="#6060e0" stroke-width="0.8" />
<line x1="472.30" y1="35.00" x2="474.30" y2="35.00" stroke="#8080ee" stroke-width="0.6" />
<line x1="472.30" y1="38.90" x2="474.30" y2="38.90" stroke="#8080ee" stroke-width="0.6" />
<rect x="472.5" y="36.2" width="1.6" height="1.6" fill="#3030d0"/>
<line x1="477.60" y1="34.10" x2="477.60" y2="39.80" stroke="#6060e0" stroke-width="0.8" />
<line x1="476.60" y1="34.10" x2="478.60" y2="34.10" stroke="#8080ee" stroke-width="0.6" />
<line x1="476.60" y1="39.80" x2="478.60" y2="39.80" stroke="#8080ee" stroke-width="0.6" />
<rect x="476.8" y="36.2" width="1.6" height="1.6" fill="#3030d0"/>
<line x1="487.60" y1="26.80" x2="487.60" y2="31.40" stroke="#6060e0" stroke-width="0.8" />
<line x1="486.60" y1="26.80" x2="488.60" y2="26.80" stroke="#8080ee" stroke-width="0.6" />
<line x1="486.60" y1="31.40" x2="488.60" y2="31.40" stroke="#8080ee" stroke-width="0.6" />
<rect x="486.8" y="28.3" width="1.6" height="1.6" fill="#3030d0"/>
<line x1="492.20" y1="33.70" x2="492.20" y2="42.80" stroke="#6060e0" stroke-width="0.8" />
<line x1="491.20" y1="33.70" x2="493.20" y2="33.70" stroke="#8080ee" stroke-width="0.6" />
<line x1="491.20" y1="42.80" x2="493.20" y2="42.80" stroke="#8080ee" stroke-width="0.6" />
<rect x="491.4" y="37.5" width="1.6" height="1.6" fill="#3030d0"/>
<line x1="503.40" y1="32.50" x2="503.40" y2="37.10" stroke="#6060e0" stroke-width="0.8" />
<line x1="502.40" y1="32.50" x2="504.40" y2="32.50" stroke="#8080ee" stroke-width="0.6" />
<line x1="502.40" y1="37.10" x2="504.40" y2="37.10" stroke="#8080ee" stroke-width="0.6" />
<rect x="502.6" y="34.0" width="1.6" height="1.6" fill="#3030d0"/>
<line x1="506.40" y1="41.60" x2="506.40" y2="45.10" stroke="#6060e0" stroke-width="0.8" />
<line x1="505.40" y1="41.60" x2="507.40" y2="41.60" stroke="#8080ee" stroke-width="0.6" />
<line x1="505.40" y1="45.10" x2="507.40" y2="45.10" stroke="#8080ee" stroke-width="0.6" />
<rect x="505.6" y="42.6" width="1.6" height="1.6" fill="#3030d0"/>
<line x1="514.10" y1="43.90" x2="514.10" y2="49.60" stroke="#6060e0" stroke-width="0.8" />
<line x1="513.10" y1="43.90" x2="515.10" y2="43.90" stroke="#8080ee" stroke-width="0.6" />
<line x1="513.10" y1="49.60" x2="515.10" y2="49.60" stroke="#8080ee" stroke-width="0.6" />
<rect x="513.3" y="46.0" width="1.6" height="1.6" fill="#3030d0"/>
<line x1="520.50" y1="40.00" x2="520.50" y2="48.50" stroke="#6060e0" stroke-width="0.8" />
<line x1="519.50" y1="40.00" x2="521.50" y2="40.00" stroke="#8080ee" stroke-width="0.6" />
<line x1="519.50" y1="48.50" x2="521.50" y2="48.50" stroke="#8080ee" stroke-width="0.6" />
<rect x="519.7" y="43.5" width="1.6" height="1.6" fill="#3030d0"/>
<line x1="522.80" y1="41.60" x2="522.80" y2="48.50" stroke="#6060e0" stroke-width="0.8" />
<line x1="521.80" y1="41.60" x2="523.80" y2="41.60" stroke="#8080ee" stroke-width="0.6" />
<line x1="521.80" y1="48.50" x2="523.80" y2="48.50" stroke="#8080ee" stroke-width="0.6" />
<rect x="522.0" y="44.2" width="1.6" height="1.6" fill="#3030d0"/>
<line x1="538.70" y1="49.60" x2="538.70" y2="54.20" stroke="#6060e0" stroke-width="0.8" />
<line x1="537.70" y1="49.60" x2="539.70" y2="49.60" stroke="#8080ee" stroke-width="0.6" />
<line x1="537.70" y1="54.20" x2="539.70" y2="54.20" stroke="#8080ee" stroke-width="0.6" />
<rect x="537.9" y="51.1" width="1.6" height="1.6" fill="#3030d0"/>
<line x1="541.00" y1="49.60" x2="541.00" y2="54.20" stroke="#6060e0" stroke-width="0.8" />
<line x1="540.00" y1="49.60" x2="542.00" y2="49.60" stroke="#8080ee" stroke-width="0.6" />
<line x1="540.00" y1="54.20" x2="542.00" y2="54.20" stroke="#8080ee" stroke-width="0.6" />
<rect x="540.2" y="51.1" width="1.6" height="1.6" fill="#3030d0"/>
<line x1="545.60" y1="54.20" x2="545.60" y2="61.00" stroke="#6060e0" stroke-width="0.8" />
<line x1="544.60" y1="54.20" x2="546.60" y2="54.20" stroke="#8080ee" stroke-width="0.6" />
<line x1="544.60" y1="61.00" x2="546.60" y2="61.00" stroke="#8080ee" stroke-width="0.6" />
<rect x="544.8" y="56.8" width="1.6" height="1.6" fill="#3030d0"/>
<line x1="554.70" y1="59.90" x2="554.70" y2="64.40" stroke="#6060e0" stroke-width="0.8" />
<line x1="553.70" y1="59.90" x2="555.70" y2="59.90" stroke="#8080ee" stroke-width="0.6" />
<line x1="553.70" y1="64.40" x2="555.70" y2="64.40" stroke="#8080ee" stroke-width="0.6" />
<rect x="553.9" y="61.4" width="1.6" height="1.6" fill="#3030d0"/>
<line x1="557.00" y1="64.40" x2="557.00" y2="69.00" stroke="#6060e0" stroke-width="0.8" />
<line x1="556.00" y1="64.40" x2="558.00" y2="64.40" stroke="#8080ee" stroke-width="0.6" />
<line x1="556.00" y1="69.00" x2="558.00" y2="69.00" stroke="#8080ee" stroke-width="0.6" />
<rect x="556.2" y="65.9" width="1.6" height="1.6" fill="#3030d0"/>
<line x1="562.00" y1="56.40" x2="562.00" y2="61.00" stroke="#6060e0" stroke-width="0.8" />
<line x1="561.00" y1="56.40" x2="563.00" y2="56.40" stroke="#8080ee" stroke-width="0.6" />
<line x1="561.00" y1="61.00" x2="563.00" y2="61.00" stroke="#8080ee" stroke-width="0.6" />
<rect x="561.2" y="57.9" width="1.6" height="1.6" fill="#3030d0"/>
<line x1="575.20" y1="63.30" x2="575.20" y2="66.70" stroke="#6060e0" stroke-width="0.8" />
<line x1="574.20" y1="63.30" x2="576.20" y2="63.30" stroke="#8080ee" stroke-width="0.6" />
<line x1="574.20" y1="66.70" x2="576.20" y2="66.70" stroke="#8080ee" stroke-width="0.6" />
<rect x="574.4" y="64.2" width="1.6" height="1.6" fill="#3030d0"/>
<line x1="562.00" y1="56.80" x2="562.00" y2="60.50" stroke="#6060e0" stroke-width="0.8" />
<line x1="561.00" y1="56.80" x2="563.00" y2="56.80" stroke="#8080ee" stroke-width="0.6" />
<line x1="561.00" y1="60.50" x2="563.00" y2="60.50" stroke="#8080ee" stroke-width="0.6" />
<rect x="561.2" y="57.9" width="1.6" height="1.6" fill="#3030d0"/>
<line x1="589.10" y1="52.00" x2="589.10" y2="62.80" stroke="#6060e0" stroke-width="0.8" />
<line x1="588.10" y1="52.00" x2="590.10" y2="52.00" stroke="#8080ee" stroke-width="0.6" />
<line x1="588.10" y1="62.80" x2="590.10" y2="62.80" stroke="#8080ee" stroke-width="0.6" />
<rect x="588.3" y="56.6" width="1.6" height="1.6" fill="#3030d0"/>
<line x1="591.30" y1="68.30" x2="591.30" y2="71.50" stroke="#6060e0" stroke-width="0.8" />
<line x1="590.30" y1="68.30" x2="592.30" y2="68.30" stroke="#8080ee" stroke-width="0.6" />
<line x1="590.30" y1="71.50" x2="592.30" y2="71.50" stroke="#8080ee" stroke-width="0.6" />
<rect x="590.5" y="69.1" width="1.6" height="1.6" fill="#3030d0"/>
<line x1="610.90" y1="68.30" x2="610.90" y2="70.40" stroke="#6060e0" stroke-width="0.8" />
<line x1="609.90" y1="68.30" x2="611.90" y2="68.30" stroke="#8080ee" stroke-width="0.6" />
<line x1="609.90" y1="70.40" x2="611.90" y2="70.40" stroke="#8080ee" stroke-width="0.6" />
<rect x="610.1" y="68.5" width="1.6" height="1.6" fill="#3030d0"/>
<line x1="616.30" y1="62.80" x2="616.30" y2="72.60" stroke="#6060e0" stroke-width="0.8" />
<line x1="615.30" y1="62.80" x2="617.30" y2="62.80" stroke="#8080ee" stroke-width="0.6" />
<line x1="615.30" y1="72.60" x2="617.30" y2="72.60" stroke="#8080ee" stroke-width="0.6" />
<rect x="615.5" y="66.9" width="1.6" height="1.6" fill="#3030d0"/>
<line x1="628.30" y1="81.30" x2="628.30" y2="88.90" stroke="#6060e0" stroke-width="0.8" />
<line x1="627.30" y1="81.30" x2="629.30" y2="81.30" stroke="#8080ee" stroke-width="0.6" />
<line x1="627.30" y1="88.90" x2="629.30" y2="88.90" stroke="#8080ee" stroke-width="0.6" />
<rect x="627.5" y="84.3" width="1.6" height="1.6" fill="#3030d0"/>
</g>
<line x1="384.00" y1="21.60" x2="635.80" y2="21.60" stroke="#1a1a1a" stroke-width="1.3" />
<line x1="384.00" y1="99.80" x2="635.80" y2="99.80" stroke="#1a1a1a" stroke-width="1.3" />
<line x1="384.00" y1="20.95" x2="384.00" y2="100.45" stroke="#1a1a1a" stroke-width="1.3" />
<line x1="635.80" y1="20.95" x2="635.80" y2="100.45" stroke="#2a2ad8" stroke-width="1.3" />
<rect x="387.8" y="41.8" width="49.2" height="54.3" fill="#fff" stroke="#222" stroke-width="1.2"/>
<line x1="390.30" y1="51.40" x2="420.00" y2="51.40" stroke="#aaa" stroke-width="1.0" />
<line x1="390.30" y1="69.20" x2="420.00" y2="69.20" stroke="#f09090" stroke-width="1.0" stroke-dasharray="5,3"/>
<line x1="390.30" y1="85.60" x2="420.00" y2="85.60" stroke="#9090ee" stroke-width="1.0" stroke-dasharray="4,2,1,2"/>
<text x="422.00" y="54.60" font-size="10.8" text-anchor="start" fill="#222" stroke="#222" stroke-width="0.3" font-weight="normal" font-family="Liberation Sans" font-style="normal" >T</text>
<text x="428.60" y="58.80" font-size="8.6" text-anchor="start" fill="#222" stroke="#222" stroke-width="0.3" font-weight="normal" font-family="Liberation Sans" font-style="normal" >i</text>
<text x="422.00" y="71.00" font-size="10.8" text-anchor="start" fill="#222" stroke="#222" stroke-width="0.3" font-weight="normal" font-family="Liberation Sans" font-style="normal" >T</text>
<text x="428.60" y="75.60" font-size="8.6" text-anchor="start" fill="#222" stroke="#222" stroke-width="0.3" font-weight="normal" font-family="Liberation Sans" font-style="normal" >e</text>
<text x="422.40" y="86.80" font-size="10.8" text-anchor="start" fill="#222" stroke="#222" stroke-width="0.3" font-weight="normal" font-family="Liberation Sans" font-style="normal" >n</text>
<text x="428.60" y="91.40" font-size="8.6" text-anchor="start" fill="#222" stroke="#222" stroke-width="0.3" font-weight="normal" font-family="Liberation Sans" font-style="normal" >e</text>
<text x="379.00" y="26.60" font-size="10.5" text-anchor="end" fill="#222" stroke="#222" stroke-width="0.3" font-weight="normal" font-family="Liberation Sans" font-style="normal" >10</text>
<text x="379.00" y="68.00" font-size="10.5" text-anchor="end" fill="#222" stroke="#222" stroke-width="0.3" font-weight="normal" font-family="Liberation Sans" font-style="normal" >5</text>
<text x="379.00" y="102.30" font-size="10.5" text-anchor="end" fill="#222" stroke="#222" stroke-width="0.3" font-weight="normal" font-family="Liberation Sans" font-style="normal" >0</text>
<text x="638.80" y="25.10" font-size="10.5" text-anchor="start" fill="#2a2ad8" stroke="#2a2ad8" stroke-width="0.3" font-weight="normal" font-family="Liberation Sans" font-style="normal" >4</text>
<text x="638.80" y="45.30" font-size="10.5" text-anchor="start" fill="#2a2ad8" stroke="#2a2ad8" stroke-width="0.3" font-weight="normal" font-family="Liberation Sans" font-style="normal" >3</text>
<text x="638.80" y="65.50" font-size="10.5" text-anchor="start" fill="#2a2ad8" stroke="#2a2ad8" stroke-width="0.3" font-weight="normal" font-family="Liberation Sans" font-style="normal" >2</text>
<text x="638.80" y="83.80" font-size="10.5" text-anchor="start" fill="#2a2ad8" stroke="#2a2ad8" stroke-width="0.3" font-weight="normal" font-family="Liberation Sans" font-style="normal" >1</text>
<text x="638.80" y="100.80" font-size="10.5" text-anchor="start" fill="#2a2ad8" stroke="#2a2ad8" stroke-width="0.3" font-weight="normal" font-family="Liberation Sans" font-style="normal" >0</text>
<text x="384.00" y="115.20" font-size="10.5" text-anchor="middle" fill="#222" stroke="#222" stroke-width="0.3" font-weight="normal" font-family="Liberation Sans" font-style="normal" >0</text>
<text x="434.70" y="115.20" font-size="10.5" text-anchor="middle" fill="#222" stroke="#222" stroke-width="0.3" font-weight="normal" font-family="Liberation Sans" font-style="normal" >0.2</text>
<text x="485.40" y="115.20" font-size="10.5" text-anchor="middle" fill="#222" stroke="#222" stroke-width="0.3" font-weight="normal" font-family="Liberation Sans" font-style="normal" >0.4</text>
<text x="536.10" y="115.20" font-size="10.5" text-anchor="middle" fill="#222" stroke="#222" stroke-width="0.3" font-weight="normal" font-family="Liberation Sans" font-style="normal" >0.6</text>
<text x="586.80" y="115.20" font-size="10.5" text-anchor="middle" fill="#222" stroke="#222" stroke-width="0.3" font-weight="normal" font-family="Liberation Sans" font-style="normal" >0.8</text>
<text x="637.50" y="115.20" font-size="10.5" text-anchor="middle" fill="#222" stroke="#222" stroke-width="0.3" font-weight="normal" font-family="Liberation Sans" font-style="normal" >1</text>
<text x="383.80" y="17.80" font-size="15" text-anchor="start" fill="#111" stroke="#111" stroke-width="0.0" font-weight="bold" font-family="Liberation Sans" font-style="normal" >(c)</text>
<text x="431.60" y="130.00" font-size="16.0" text-anchor="start" fill="#222" stroke="#222" stroke-width="0.3" font-weight="normal" font-family="Liberation Sans" font-style="normal" textLength="142.0" lengthAdjust="spacing" >Normalized radius,</text>
<text x="580.00" y="130.00" font-size="16.5" text-anchor="start" fill="#222" stroke="#222" stroke-width="0.3" font-weight="normal" font-family="Liberation Serif" font-style="italic" >&#961;</text>
<text transform="translate(352.60,107.80) rotate(-90)" x="0" y="0" font-size="14" fill="#222" stroke="#222" stroke-width="0.3" font-family="Liberation Sans" font-style="normal" text-anchor="start">T</text>
<text transform="translate(359.60,98.00) rotate(-90)" x="0" y="0" font-size="9.5" fill="#222" stroke="#222" stroke-width="0.3" font-family="Liberation Sans" font-style="normal" text-anchor="start">i</text>
<text transform="translate(352.60,90.50) rotate(-90)" x="0" y="0" font-size="14" fill="#222" stroke="#222" stroke-width="0.3" font-family="Liberation Sans" font-style="normal" text-anchor="start">&amp;</text>
<text transform="translate(352.60,77.50) rotate(-90)" x="0" y="0" font-size="14" fill="#222" stroke="#222" stroke-width="0.3" font-family="Liberation Sans" font-style="normal" text-anchor="start">T</text>
<text transform="translate(359.60,67.50) rotate(-90)" x="0" y="0" font-size="9.5" fill="#222" stroke="#222" stroke-width="0.3" font-family="Liberation Sans" font-style="normal" text-anchor="start">e</text>
<text transform="translate(352.60,49.00) rotate(-90)" x="0" y="0" font-size="14" fill="#222" stroke="#222" stroke-width="0.3" font-family="Liberation Sans" font-style="normal" text-anchor="start" textLength="38.4" lengthAdjust="spacingAndGlyphs">(keV)</text>
<text transform="translate(662.50,99.20) rotate(-90)" x="0" y="0" font-size="13.5" fill="#2a2ad8" stroke="#2a2ad8" stroke-width="0.3" font-family="Liberation Sans" font-style="normal" text-anchor="start">n</text>
<text transform="translate(668.00,91.50) rotate(-90)" x="0" y="0" font-size="9.5" fill="#2a2ad8" stroke="#2a2ad8" stroke-width="0.3" font-family="Liberation Sans" font-style="normal" text-anchor="start">e</text>
<text transform="translate(662.50,81.00) rotate(-90)" x="0" y="0" font-size="13.5" fill="#2a2ad8" stroke="#2a2ad8" stroke-width="0.3" font-family="Liberation Sans" font-style="normal" text-anchor="start" textLength="28.5" lengthAdjust="spacingAndGlyphs">(x10</text>
<text transform="translate(655.50,52.50) rotate(-90)" x="0" y="0" font-size="9.5" fill="#2a2ad8" stroke="#2a2ad8" stroke-width="0.3" font-family="Liberation Sans" font-style="normal" text-anchor="start">19</text>
<text transform="translate(662.50,42.00) rotate(-90)" x="0" y="0" font-size="13.5" fill="#2a2ad8" stroke="#2a2ad8" stroke-width="0.3" font-family="Liberation Sans" font-style="normal" text-anchor="start">m</text>
<text transform="translate(655.50,30.50) rotate(-90)" x="0" y="0" font-size="9.5" fill="#2a2ad8" stroke="#2a2ad8" stroke-width="0.3" font-family="Liberation Sans" font-style="normal" text-anchor="start">-3</text>
<text transform="translate(662.50,23.00) rotate(-90)" x="0" y="0" font-size="13.5" fill="#2a2ad8" stroke="#2a2ad8" stroke-width="0.3" font-family="Liberation Sans" font-style="normal" text-anchor="start">)</text>
<text x="539.60" y="148.60" font-size="13" text-anchor="start" fill="#222" stroke="#222" stroke-width="0.3" font-weight="normal" font-family="Liberation Serif" font-style="italic" >&#961;</text>
<text x="547.30" y="153.80" font-size="9.5" text-anchor="start" fill="#222" stroke="#222" stroke-width="0.3" font-weight="normal" font-family="Liberation Sans" font-style="normal" textLength="22.5" lengthAdjust="spacingAndGlyphs" >ped.</text>
<text x="571.30" y="146.80" font-size="12.5" text-anchor="start" fill="#222" stroke="#222" stroke-width="0.3" font-weight="normal" font-family="Liberation Sans" font-style="normal" textLength="33.0" lengthAdjust="spacingAndGlyphs" >=0.89</text>
<text x="618.00" y="143.30" font-size="13" text-anchor="start" fill="#2a2ad8" stroke="#2a2ad8" stroke-width="0.3" font-weight="normal" font-family="Liberation Serif" font-style="italic" >&#961;</text>
<text x="625.70" y="150.20" font-size="9.5" text-anchor="start" fill="#2a2ad8" stroke="#2a2ad8" stroke-width="0.3" font-weight="normal" font-family="Liberation Sans" font-style="normal" textLength="18.6" lengthAdjust="spacingAndGlyphs" >q=4</text>
<text x="644.90" y="144.20" font-size="12.5" text-anchor="start" fill="#2a2ad8" stroke="#2a2ad8" stroke-width="0.3" font-weight="normal" font-family="Liberation Sans" font-style="normal" textLength="33.7" lengthAdjust="spacingAndGlyphs" >=0.92</text>
<line x1="601.20" y1="154.90" x2="609.00" y2="162.80" stroke="#444" stroke-width="0.8" />
<line x1="623.90" y1="154.20" x2="617.20" y2="162.80" stroke="#6a6ae8" stroke-width="0.8" />
<line x1="409.35" y1="241.40" x2="409.35" y2="238.40" stroke="#1a1a1a" stroke-width="1.0" />
<line x1="409.35" y1="163.90" x2="409.35" y2="166.90" stroke="#1a1a1a" stroke-width="1.0" />
<line x1="434.70" y1="241.40" x2="434.70" y2="238.40" stroke="#1a1a1a" stroke-width="1.0" />
<line x1="434.70" y1="163.90" x2="434.70" y2="166.90" stroke="#1a1a1a" stroke-width="1.0" />
<line x1="460.05" y1="241.40" x2="460.05" y2="238.40" stroke="#1a1a1a" stroke-width="1.0" />
<line x1="460.05" y1="163.90" x2="460.05" y2="166.90" stroke="#1a1a1a" stroke-width="1.0" />
<line x1="485.40" y1="241.40" x2="485.40" y2="238.40" stroke="#1a1a1a" stroke-width="1.0" />
<line x1="485.40" y1="163.90" x2="485.40" y2="166.90" stroke="#1a1a1a" stroke-width="1.0" />
<line x1="510.75" y1="241.40" x2="510.75" y2="238.40" stroke="#1a1a1a" stroke-width="1.0" />
<line x1="510.75" y1="163.90" x2="510.75" y2="166.90" stroke="#1a1a1a" stroke-width="1.0" />
<line x1="536.10" y1="241.40" x2="536.10" y2="238.40" stroke="#1a1a1a" stroke-width="1.0" />
<line x1="536.10" y1="163.90" x2="536.10" y2="166.90" stroke="#1a1a1a" stroke-width="1.0" />
<line x1="561.45" y1="241.40" x2="561.45" y2="238.40" stroke="#1a1a1a" stroke-width="1.0" />
<line x1="561.45" y1="163.90" x2="561.45" y2="166.90" stroke="#1a1a1a" stroke-width="1.0" />
<line x1="586.80" y1="241.40" x2="586.80" y2="238.40" stroke="#1a1a1a" stroke-width="1.0" />
<line x1="586.80" y1="163.90" x2="586.80" y2="166.90" stroke="#1a1a1a" stroke-width="1.0" />
<line x1="612.15" y1="241.40" x2="612.15" y2="238.40" stroke="#1a1a1a" stroke-width="1.0" />
<line x1="612.15" y1="163.90" x2="612.15" y2="166.90" stroke="#1a1a1a" stroke-width="1.0" />
<line x1="396.68" y1="241.40" x2="396.68" y2="239.40" stroke="#1a1a1a" stroke-width="1.0" />
<line x1="396.68" y1="163.90" x2="396.68" y2="165.90" stroke="#1a1a1a" stroke-width="1.0" />
<line x1="422.02" y1="241.40" x2="422.02" y2="239.40" stroke="#1a1a1a" stroke-width="1.0" />
<line x1="422.02" y1="163.90" x2="422.02" y2="165.90" stroke="#1a1a1a" stroke-width="1.0" />
<line x1="447.38" y1="241.40" x2="447.38" y2="239.40" stroke="#1a1a1a" stroke-width="1.0" />
<line x1="447.38" y1="163.90" x2="447.38" y2="165.90" stroke="#1a1a1a" stroke-width="1.0" />
<line x1="472.73" y1="241.40" x2="472.73" y2="239.40" stroke="#1a1a1a" stroke-width="1.0" />
<line x1="472.73" y1="163.90" x2="472.73" y2="165.90" stroke="#1a1a1a" stroke-width="1.0" />
<line x1="498.07" y1="241.40" x2="498.07" y2="239.40" stroke="#1a1a1a" stroke-width="1.0" />
<line x1="498.07" y1="163.90" x2="498.07" y2="165.90" stroke="#1a1a1a" stroke-width="1.0" />
<line x1="523.42" y1="241.40" x2="523.42" y2="239.40" stroke="#1a1a1a" stroke-width="1.0" />
<line x1="523.42" y1="163.90" x2="523.42" y2="165.90" stroke="#1a1a1a" stroke-width="1.0" />
<line x1="548.78" y1="241.40" x2="548.78" y2="239.40" stroke="#1a1a1a" stroke-width="1.0" />
<line x1="548.78" y1="163.90" x2="548.78" y2="165.90" stroke="#1a1a1a" stroke-width="1.0" />
<line x1="574.12" y1="241.40" x2="574.12" y2="239.40" stroke="#1a1a1a" stroke-width="1.0" />
<line x1="574.12" y1="163.90" x2="574.12" y2="165.90" stroke="#1a1a1a" stroke-width="1.0" />
<line x1="599.48" y1="241.40" x2="599.48" y2="239.40" stroke="#1a1a1a" stroke-width="1.0" />
<line x1="599.48" y1="163.90" x2="599.48" y2="165.90" stroke="#1a1a1a" stroke-width="1.0" />
<line x1="624.83" y1="241.40" x2="624.83" y2="239.40" stroke="#1a1a1a" stroke-width="1.0" />
<line x1="624.83" y1="163.90" x2="624.83" y2="165.90" stroke="#1a1a1a" stroke-width="1.0" />
<line x1="384.00" y1="178.80" x2="387.00" y2="178.80" stroke="#1a1a1a" stroke-width="1.0" />
<line x1="384.00" y1="210.20" x2="387.00" y2="210.20" stroke="#1a1a1a" stroke-width="1.0" />
<line x1="384.00" y1="232.15" x2="386.00" y2="232.15" stroke="#1a1a1a" stroke-width="1.0" />
<line x1="384.00" y1="226.62" x2="386.00" y2="226.62" stroke="#1a1a1a" stroke-width="1.0" />
<line x1="384.00" y1="222.70" x2="386.00" y2="222.70" stroke="#1a1a1a" stroke-width="1.0" />
<line x1="384.00" y1="219.65" x2="386.00" y2="219.65" stroke="#1a1a1a" stroke-width="1.0" />
<line x1="384.00" y1="217.17" x2="386.00" y2="217.17" stroke="#1a1a1a" stroke-width="1.0" />
<line x1="384.00" y1="215.06" x2="386.00" y2="215.06" stroke="#1a1a1a" stroke-width="1.0" />
<line x1="384.00" y1="213.24" x2="386.00" y2="213.24" stroke="#1a1a1a" stroke-width="1.0" />
<line x1="384.00" y1="211.64" x2="386.00" y2="211.64" stroke="#1a1a1a" stroke-width="1.0" />
<line x1="384.00" y1="200.75" x2="386.00" y2="200.75" stroke="#1a1a1a" stroke-width="1.0" />
<line x1="384.00" y1="195.22" x2="386.00" y2="195.22" stroke="#1a1a1a" stroke-width="1.0" />
<line x1="384.00" y1="191.30" x2="386.00" y2="191.30" stroke="#1a1a1a" stroke-width="1.0" />
<line x1="384.00" y1="188.25" x2="386.00" y2="188.25" stroke="#1a1a1a" stroke-width="1.0" />
<line x1="384.00" y1="185.77" x2="386.00" y2="185.77" stroke="#1a1a1a" stroke-width="1.0" />
<line x1="384.00" y1="183.66" x2="386.00" y2="183.66" stroke="#1a1a1a" stroke-width="1.0" />
<line x1="384.00" y1="181.84" x2="386.00" y2="181.84" stroke="#1a1a1a" stroke-width="1.0" />
<line x1="384.00" y1="180.24" x2="386.00" y2="180.24" stroke="#1a1a1a" stroke-width="1.0" />
<line x1="384.00" y1="169.35" x2="386.00" y2="169.35" stroke="#1a1a1a" stroke-width="1.0" />
<line x1="636.00" y1="215.60" x2="633.00" y2="215.60" stroke="#2a2ad8" stroke-width="1.0" />
<line x1="636.00" y1="189.80" x2="633.00" y2="189.80" stroke="#2a2ad8" stroke-width="1.0" />
<line x1="636.00" y1="234.95" x2="634.00" y2="234.95" stroke="#2a2ad8" stroke-width="1.0" />
<line x1="636.00" y1="228.50" x2="634.00" y2="228.50" stroke="#2a2ad8" stroke-width="1.0" />
<line x1="636.00" y1="222.05" x2="634.00" y2="222.05" stroke="#2a2ad8" stroke-width="1.0" />
<line x1="636.00" y1="209.15" x2="634.00" y2="209.15" stroke="#2a2ad8" stroke-width="1.0" />
<line x1="636.00" y1="202.70" x2="634.00" y2="202.70" stroke="#2a2ad8" stroke-width="1.0" />
<line x1="636.00" y1="196.25" x2="634.00" y2="196.25" stroke="#2a2ad8" stroke-width="1.0" />
<line x1="636.00" y1="183.35" x2="634.00" y2="183.35" stroke="#2a2ad8" stroke-width="1.0" />
<line x1="636.00" y1="176.90" x2="634.00" y2="176.90" stroke="#2a2ad8" stroke-width="1.0" />
<line x1="636.00" y1="170.45" x2="634.00" y2="170.45" stroke="#2a2ad8" stroke-width="1.0" />
<clipPath id="clipd"><rect x="384.0" y="163.9" width="252.0" height="77.5"/></clipPath>
<g clip-path="url(#clipd)">
<path d="M384.0,174.2 L384.5,174.2 L385.0,174.2 L385.5,174.2 L386.0,174.3 L386.5,174.3 L387.0,174.3 L387.5,174.3 L388.0,174.3 L388.5,174.3 L389.0,174.3 L389.5,174.4 L390.0,174.4 L390.5,174.4 L391.0,174.4 L391.5,174.4 L392.0,174.4 L392.5,174.4 L393.0,174.5 L393.5,174.5 L394.0,174.5 L394.5,174.5 L395.0,174.5 L395.5,174.5 L396.0,174.5 L396.5,174.5 L397.0,174.6 L397.5,174.6 L398.0,174.6 L398.5,174.6 L399.0,174.6 L399.5,174.6 L400.0,174.6 L400.5,174.6 L401.0,174.7 L401.5,174.7 L402.0,174.7 L402.5,174.7 L403.0,174.7 L403.5,174.7 L404.0,174.7 L404.5,174.8 L405.0,174.8 L405.5,174.8 L406.0,174.8 L406.5,174.8 L407.0,174.8 L407.5,174.8 L408.0,174.9 L408.5,174.9 L409.0,174.9 L409.5,174.9 L410.0,174.9 L410.5,174.9 L411.0,175.0 L411.5,175.0 L412.0,175.0 L412.5,175.0 L413.0,175.0 L413.5,175.0 L414.0,175.1 L414.5,175.1 L415.0,175.1 L415.5,175.1 L416.0,175.1 L416.5,175.2 L417.0,175.2 L417.5,175.2 L418.0,175.2 L418.5,175.2 L419.0,175.3 L419.5,175.3 L420.0,175.3 L420.5,175.3 L421.0,175.3 L421.5,175.4 L422.0,175.4 L422.5,175.4 L423.0,175.4 L423.5,175.5 L424.0,175.5 L424.5,175.5 L425.0,175.6 L425.5,175.6 L426.0,175.6 L426.5,175.7 L427.0,175.7 L427.5,175.7 L428.0,175.8 L428.5,175.8 L429.0,175.8 L429.5,175.9 L430.0,175.9 L430.5,175.9 L431.0,176.0 L431.5,176.0 L432.0,176.0 L432.5,176.1 L433.0,176.1 L433.5,176.2 L434.0,176.2 L434.5,176.2 L435.0,176.3 L435.5,176.3 L436.0,176.4 L436.5,176.4 L437.0,176.5 L437.5,176.5 L438.0,176.5 L438.5,176.6 L439.0,176.6 L439.5,176.7 L440.0,176.7 L440.5,176.8 L441.0,176.8 L441.5,176.9 L442.0,176.9 L442.5,177.0 L443.0,177.0 L443.5,177.1 L444.0,177.1 L444.5,177.1 L445.0,177.2 L445.5,177.2 L446.0,177.3 L446.5,177.3 L447.0,177.4 L447.5,177.5 L448.0,177.5 L448.5,177.6 L449.0,177.6 L449.5,177.7 L450.0,177.7 L450.5,177.8 L451.0,177.9 L451.5,177.9 L452.0,178.0 L452.5,178.0 L453.0,178.1 L453.5,178.2 L454.0,178.3 L454.5,178.3 L455.0,178.4 L455.5,178.5 L456.0,178.5 L456.5,178.6 L457.0,178.7 L457.5,178.8 L458.0,178.8 L458.5,178.9 L459.0,179.0 L459.5,179.1 L460.0,179.1 L460.5,179.2 L461.0,179.3 L461.5,179.4 L462.0,179.4 L462.5,179.5 L463.0,179.6 L463.5,179.7 L464.0,179.7 L464.5,179.8 L465.0,179.9 L465.5,180.0 L466.0,180.1 L466.5,180.1 L467.0,180.2 L467.5,180.3 L468.0,180.4 L468.5,180.5 L469.0,180.5 L469.5,180.6 L470.0,180.7 L470.5,180.8 L471.0,180.9 L471.5,181.0 L472.0,181.1 L472.5,181.1 L473.0,181.2 L473.5,181.3 L474.0,181.4 L474.5,181.5 L475.0,181.6 L475.5,181.7 L476.0,181.7 L476.5,181.8 L477.0,181.9 L477.5,182.0 L478.0,182.1 L478.5,182.2 L479.0,182.3 L479.5,182.4 L480.0,182.4 L480.5,182.5 L481.0,182.6 L481.5,182.7 L482.0,182.8 L482.5,182.9 L483.0,183.0 L483.5,183.1 L484.0,183.1 L484.5,183.2 L485.0,183.3 L485.5,183.4 L486.0,183.5 L486.5,183.6 L487.0,183.7 L487.5,183.8 L488.0,183.8 L488.5,183.9 L489.0,184.0 L489.5,184.1 L490.0,184.2 L490.5,184.3 L491.0,184.4 L491.5,184.5 L492.0,184.5 L492.5,184.6 L493.0,184.7 L493.5,184.8 L494.0,184.9 L494.5,185.0 L495.0,185.1 L495.5,185.2 L496.0,185.3 L496.5,185.4 L497.0,185.4 L497.5,185.5 L498.0,185.6 L498.5,185.7 L499.0,185.8 L499.5,185.9 L500.0,186.0 L500.5,186.1 L501.0,186.2 L501.5,186.3 L502.0,186.4 L502.5,186.5 L503.0,186.6 L503.5,186.7 L504.0,186.8 L504.5,186.9 L505.0,187.0 L505.5,187.1 L506.0,187.2 L506.5,187.3 L507.0,187.4 L507.5,187.5 L508.0,187.6 L508.5,187.7 L509.0,187.8 L509.5,187.9 L510.0,188.0 L510.5,188.1 L511.0,188.2 L511.5,188.3 L512.0,188.4 L512.5,188.5 L513.0,188.6 L513.5,188.7 L514.0,188.8 L514.5,188.9 L515.0,189.0 L515.5,189.1 L516.0,189.2 L516.5,189.3 L517.0,189.4 L517.5,189.5 L518.0,189.6 L518.5,189.7 L519.0,189.7 L519.5,189.8 L520.0,189.9 L520.5,190.0 L521.0,190.1 L521.5,190.2 L522.0,190.3 L522.5,190.4 L523.0,190.5 L523.5,190.6 L524.0,190.7 L524.5,190.8 L525.0,190.8 L525.5,190.9 L526.0,191.0 L526.5,191.1 L527.0,191.2 L527.5,191.3 L528.0,191.3 L528.5,191.4 L529.0,191.5 L529.5,191.6 L530.0,191.7 L530.5,191.7 L531.0,191.8 L531.5,191.9 L532.0,192.0 L532.5,192.1 L533.0,192.1 L533.5,192.2 L534.0,192.3 L534.5,192.4 L535.0,192.4 L535.5,192.5 L536.0,192.6 L536.5,192.7 L537.0,192.7 L537.5,192.8 L538.0,192.9 L538.5,193.0 L539.0,193.0 L539.5,193.1 L540.0,193.2 L540.5,193.2 L541.0,193.3 L541.5,193.4 L542.0,193.5 L542.5,193.5 L543.0,193.6 L543.5,193.7 L544.0,193.7 L544.5,193.8 L545.0,193.9 L545.5,194.0 L546.0,194.0 L546.5,194.1 L547.0,194.2 L547.5,194.2 L548.0,194.3 L548.5,194.4 L549.0,194.5 L549.5,194.5 L550.0,194.6 L550.5,194.7 L551.0,194.7 L551.5,194.8 L552.0,194.9 L552.5,195.0 L553.0,195.0 L553.5,195.1 L554.0,195.2 L554.5,195.2 L555.0,195.3 L555.5,195.4 L556.0,195.4 L556.5,195.5 L557.0,195.6 L557.5,195.6 L558.0,195.7 L558.5,195.8 L559.0,195.8 L559.5,195.9 L560.0,196.0 L560.5,196.0 L561.0,196.1 L561.5,196.2 L562.0,196.2 L562.5,196.3 L563.0,196.4 L563.5,196.4 L564.0,196.5 L564.5,196.6 L565.0,196.7 L565.5,196.7 L566.0,196.8 L566.5,196.9 L567.0,196.9 L567.5,197.0 L568.0,197.1 L568.5,197.2 L569.0,197.2 L569.5,197.3 L570.0,197.4 L570.5,197.5 L571.0,197.6 L571.5,197.6 L572.0,197.7 L572.5,197.8 L573.0,197.9 L573.5,198.0 L574.0,198.1 L574.5,198.2 L575.0,198.2 L575.5,198.3 L576.0,198.4 L576.5,198.5 L577.0,198.6 L577.5,198.7 L578.0,198.8 L578.5,198.9 L579.0,199.0 L579.5,199.1 L580.0,199.2 L580.5,199.3 L581.0,199.4 L581.5,199.5 L582.0,199.5 L582.5,199.6 L583.0,199.7 L583.5,199.8 L584.0,199.9 L584.5,200.0 L585.0,200.1 L585.5,200.2 L586.0,200.3 L586.5,200.4 L587.0,200.5 L587.5,200.6 L588.0,200.7 L588.5,200.7 L589.0,200.8 L589.5,200.9 L590.0,201.0 L590.5,201.1 L591.0,201.2 L591.5,201.2 L592.0,201.3 L592.5,201.4 L593.0,201.5 L593.5,201.5 L594.0,201.6 L594.5,201.7 L595.0,201.7 L595.5,201.8 L596.0,201.9 L596.5,201.9 L597.0,202.0 L597.5,202.0 L598.0,202.1 L598.5,202.2 L599.0,202.2 L599.5,202.3 L600.0,202.4 L600.5,202.4 L601.0,202.5 L601.5,202.6 L602.0,202.7 L602.5,202.7 L603.0,202.8 L603.5,202.9 L604.0,203.0 L604.5,203.1 L605.0,203.2 L605.5,203.3 L606.0,203.4 L606.5,203.5 L607.0,203.6 L607.5,203.7 L608.0,203.8 L608.5,204.0 L609.0,204.1 L609.5,204.3 L610.0,204.5 L610.5,204.7 L611.0,204.9 L611.5,205.2 L612.0,205.5 L612.5,205.8 L613.0,206.0 L613.5,206.4 L614.0,206.7 L614.5,207.0 L615.0,207.3 L615.5,207.6 L616.0,207.9 L616.5,208.3 L617.0,208.6 L617.5,208.9 L618.0,209.3 L618.5,209.7 L619.0,210.1 L619.5,210.5 L620.0,211.0 L620.5,211.5 L621.0,212.0 L621.5,212.6 L622.0,213.2 L622.5,213.9 L623.0,214.8 L623.5,215.7 L624.0,216.8 L624.5,218.0 L625.0,219.3 L625.5,220.6 L626.0,222.0 L626.5,223.5 L627.0,225.0 L627.5,226.6 L628.0,228.5 L628.5,230.5 L629.0,232.6 L629.5,234.8 L630.0,237.0 L630.5,239.2 L631.0,241.4 L631.5,243.5 L632.0,245.7 L632.5,247.8 L633.0,250.0" fill="none" stroke="#777" stroke-width="1.0"/>
<path d="M384.0,167.6 L384.5,167.6 L385.0,167.7 L385.5,167.7 L386.0,167.7 L386.5,167.8 L387.0,167.8 L387.5,167.8 L388.0,167.9 L388.5,167.9 L389.0,167.9 L389.5,168.0 L390.0,168.0 L390.5,168.0 L391.0,168.1 L391.5,168.1 L392.0,168.1 L392.5,168.2 L393.0,168.2 L393.5,168.2 L394.0,168.3 L394.5,168.3 L395.0,168.3 L395.5,168.4 L396.0,168.4 L396.5,168.4 L397.0,168.5 L397.5,168.5 L398.0,168.5 L398.5,168.5 L399.0,168.6 L399.5,168.6 L400.0,168.6 L400.5,168.7 L401.0,168.7 L401.5,168.7 L402.0,168.8 L402.5,168.8 L403.0,168.8 L403.5,168.9 L404.0,168.9 L404.5,168.9 L405.0,168.9 L405.5,169.0 L406.0,169.0 L406.5,169.0 L407.0,169.1 L407.5,169.1 L408.0,169.1 L408.5,169.2 L409.0,169.2 L409.5,169.2 L410.0,169.3 L410.5,169.3 L411.0,169.3 L411.5,169.4 L412.0,169.4 L412.5,169.4 L413.0,169.4 L413.5,169.5 L414.0,169.5 L414.5,169.5 L415.0,169.6 L415.5,169.6 L416.0,169.6 L416.5,169.7 L417.0,169.7 L417.5,169.7 L418.0,169.8 L418.5,169.8 L419.0,169.8 L419.5,169.9 L420.0,169.9 L420.5,169.9 L421.0,170.0 L421.5,170.0 L422.0,170.0 L422.5,170.1 L423.0,170.1 L423.5,170.1 L424.0,170.2 L424.5,170.2 L425.0,170.2 L425.5,170.3 L426.0,170.3 L426.5,170.3 L427.0,170.4 L427.5,170.4 L428.0,170.4 L428.5,170.5 L429.0,170.5 L429.5,170.5 L430.0,170.6 L430.5,170.6 L431.0,170.7 L431.5,170.7 L432.0,170.7 L432.5,170.8 L433.0,170.8 L433.5,170.8 L434.0,170.9 L434.5,170.9 L435.0,171.0 L435.5,171.0 L436.0,171.0 L436.5,171.1 L437.0,171.1 L437.5,171.2 L438.0,171.2 L438.5,171.2 L439.0,171.3 L439.5,171.3 L440.0,171.4 L440.5,171.4 L441.0,171.5 L441.5,171.5 L442.0,171.5 L442.5,171.6 L443.0,171.6 L443.5,171.7 L444.0,171.7 L444.5,171.8 L445.0,171.8 L445.5,171.9 L446.0,171.9 L446.5,172.0 L447.0,172.0 L447.5,172.0 L448.0,172.1 L448.5,172.1 L449.0,172.2 L449.5,172.2 L450.0,172.3 L450.5,172.4 L451.0,172.4 L451.5,172.5 L452.0,172.5 L452.5,172.6 L453.0,172.6 L453.5,172.7 L454.0,172.7 L454.5,172.8 L455.0,172.9 L455.5,172.9 L456.0,173.0 L456.5,173.0 L457.0,173.1 L457.5,173.2 L458.0,173.2 L458.5,173.3 L459.0,173.3 L459.5,173.4 L460.0,173.5 L460.5,173.5 L461.0,173.6 L461.5,173.7 L462.0,173.7 L462.5,173.8 L463.0,173.9 L463.5,173.9 L464.0,174.0 L464.5,174.1 L465.0,174.1 L465.5,174.2 L466.0,174.3 L466.5,174.4 L467.0,174.4 L467.5,174.5 L468.0,174.6 L468.5,174.6 L469.0,174.7 L469.5,174.8 L470.0,174.9 L470.5,174.9 L471.0,175.0 L471.5,175.1 L472.0,175.2 L472.5,175.2 L473.0,175.3 L473.5,175.4 L474.0,175.5 L474.5,175.5 L475.0,175.6 L475.5,175.7 L476.0,175.8 L476.5,175.8 L477.0,175.9 L477.5,176.0 L478.0,176.1 L478.5,176.2 L479.0,176.2 L479.5,176.3 L480.0,176.4 L480.5,176.5 L481.0,176.5 L481.5,176.6 L482.0,176.7 L482.5,176.8 L483.0,176.9 L483.5,176.9 L484.0,177.0 L484.5,177.1 L485.0,177.2 L485.5,177.3 L486.0,177.3 L486.5,177.4 L487.0,177.5 L487.5,177.6 L488.0,177.7 L488.5,177.8 L489.0,177.8 L489.5,177.9 L490.0,178.0 L490.5,178.1 L491.0,178.2 L491.5,178.2 L492.0,178.3 L492.5,178.4 L493.0,178.5 L493.5,178.6 L494.0,178.6 L494.5,178.7 L495.0,178.8 L495.5,178.9 L496.0,179.0 L496.5,179.0 L497.0,179.1 L497.5,179.2 L498.0,179.3 L498.5,179.4 L499.0,179.4 L499.5,179.5 L500.0,179.6 L500.5,179.7 L501.0,179.8 L501.5,179.8 L502.0,179.9 L502.5,180.0 L503.0,180.1 L503.5,180.2 L504.0,180.2 L504.5,180.3 L505.0,180.4 L505.5,180.5 L506.0,180.5 L506.5,180.6 L507.0,180.7 L507.5,180.8 L508.0,180.9 L508.5,180.9 L509.0,181.0 L509.5,181.1 L510.0,181.2 L510.5,181.3 L511.0,181.3 L511.5,181.4 L512.0,181.5 L512.5,181.6 L513.0,181.6 L513.5,181.7 L514.0,181.8 L514.5,181.9 L515.0,182.0 L515.5,182.0 L516.0,182.1 L516.5,182.2 L517.0,182.3 L517.5,182.4 L518.0,182.4 L518.5,182.5 L519.0,182.6 L519.5,182.7 L520.0,182.8 L520.5,182.9 L521.0,182.9 L521.5,183.0 L522.0,183.1 L522.5,183.2 L523.0,183.3 L523.5,183.4 L524.0,183.4 L524.5,183.5 L525.0,183.6 L525.5,183.7 L526.0,183.8 L526.5,183.9 L527.0,183.9 L527.5,184.0 L528.0,184.1 L528.5,184.2 L529.0,184.3 L529.5,184.4 L530.0,184.5 L530.5,184.6 L531.0,184.6 L531.5,184.7 L532.0,184.8 L532.5,184.9 L533.0,185.0 L533.5,185.1 L534.0,185.2 L534.5,185.3 L535.0,185.4 L535.5,185.5 L536.0,185.6 L536.5,185.6 L537.0,185.7 L537.5,185.8 L538.0,185.9 L538.5,186.0 L539.0,186.1 L539.5,186.2 L540.0,186.3 L540.5,186.4 L541.0,186.5 L541.5,186.6 L542.0,186.7 L542.5,186.8 L543.0,186.9 L543.5,187.0 L544.0,187.1 L544.5,187.2 L545.0,187.3 L545.5,187.4 L546.0,187.5 L546.5,187.6 L547.0,187.7 L547.5,187.9 L548.0,188.0 L548.5,188.1 L549.0,188.2 L549.5,188.3 L550.0,188.4 L550.5,188.5 L551.0,188.6 L551.5,188.7 L552.0,188.9 L552.5,189.0 L553.0,189.1 L553.5,189.3 L554.0,189.4 L554.5,189.5 L555.0,189.7 L555.5,189.8 L556.0,190.0 L556.5,190.1 L557.0,190.3 L557.5,190.4 L558.0,190.5 L558.5,190.7 L559.0,190.8 L559.5,191.0 L560.0,191.2 L560.5,191.3 L561.0,191.5 L561.5,191.6 L562.0,191.8 L562.5,191.9 L563.0,192.0 L563.5,192.2 L564.0,192.3 L564.5,192.5 L565.0,192.6 L565.5,192.8 L566.0,192.9 L566.5,193.0 L567.0,193.2 L567.5,193.3 L568.0,193.4 L568.5,193.6 L569.0,193.7 L569.5,193.8 L570.0,193.9 L570.5,194.0 L571.0,194.1 L571.5,194.2 L572.0,194.3 L572.5,194.4 L573.0,194.5 L573.5,194.6 L574.0,194.7 L574.5,194.8 L575.0,194.9 L575.5,195.0 L576.0,195.1 L576.5,195.1 L577.0,195.2 L577.5,195.3 L578.0,195.4 L578.5,195.5 L579.0,195.6 L579.5,195.6 L580.0,195.7 L580.5,195.8 L581.0,195.9 L581.5,196.0 L582.0,196.1 L582.5,196.1 L583.0,196.2 L583.5,196.3 L584.0,196.4 L584.5,196.5 L585.0,196.6 L585.5,196.7 L586.0,196.8 L586.5,196.9 L587.0,197.0 L587.5,197.1 L588.0,197.2 L588.5,197.3 L589.0,197.4 L589.5,197.5 L590.0,197.6 L590.5,197.7 L591.0,197.9 L591.5,198.0 L592.0,198.2 L592.5,198.3 L593.0,198.5 L593.5,198.7 L594.0,198.9 L594.5,199.1 L595.0,199.2 L595.5,199.4 L596.0,199.6 L596.5,199.7 L597.0,199.9 L597.5,200.0 L598.0,200.2 L598.5,200.3 L599.0,200.4 L599.5,200.4 L600.0,200.5 L600.5,200.5 L601.0,200.6 L601.5,200.6 L602.0,200.6 L602.5,200.7 L603.0,200.7 L603.5,200.7 L604.0,200.8 L604.5,200.8 L605.0,200.8 L605.5,200.8 L606.0,200.8 L606.5,200.7 L607.0,200.3 L607.5,199.7 L608.0,198.9 L608.5,198.1 L609.0,197.3 L609.5,196.5 L610.0,195.5 L610.5,194.3 L611.0,193.0 L611.5,191.6 L612.0,190.5 L612.5,189.7 L613.0,189.4 L613.5,189.4 L614.0,189.4 L614.5,189.5 L615.0,189.5 L615.5,189.6 L616.0,189.7 L616.5,189.8 L617.0,189.9 L617.5,190.1 L618.0,190.6 L618.5,191.2 L619.0,192.0 L619.5,192.8 L620.0,193.8 L620.5,194.7 L621.0,195.7 L621.5,196.6 L622.0,197.4 L622.5,198.2 L623.0,198.9 L623.5,199.6 L624.0,200.4 L624.5,201.1 L625.0,201.9 L625.5,202.6 L626.0,203.4 L626.5,204.2 L627.0,205.0 L627.5,205.8 L628.0,206.6 L628.5,207.5 L629.0,208.3 L629.5,209.1 L630.0,210.0 L630.5,210.9 L631.0,211.9 L631.5,212.9 L632.0,214.0 L632.5,215.2 L633.0,216.5 L633.5,217.9 L634.0,219.3 L634.5,220.8 L635.0,222.4 L635.5,223.9 L636.0,225.3" fill="none" stroke="#f09090" stroke-width="1.0" stroke-dasharray="5,3"/>
<path d="M446.0,226.9 L446.5,226.9 L447.0,226.9 L447.5,226.9 L448.0,226.8 L448.5,226.8 L449.0,226.8 L449.5,226.8 L450.0,226.7 L450.5,226.7 L451.0,226.7 L451.5,226.6 L452.0,226.6 L452.5,226.6 L453.0,226.6 L453.5,226.5 L454.0,226.5 L454.5,226.5 L455.0,226.4 L455.5,226.4 L456.0,226.4 L456.5,226.4 L457.0,226.3 L457.5,226.3 L458.0,226.3 L458.5,226.2 L459.0,226.2 L459.5,226.2 L460.0,226.1 L460.5,226.1 L461.0,226.1 L461.5,226.0 L462.0,226.0 L462.5,226.0 L463.0,225.9 L463.5,225.9 L464.0,225.9 L464.5,225.9 L465.0,225.8 L465.5,225.8 L466.0,225.8 L466.5,225.7 L467.0,225.7 L467.5,225.7 L468.0,225.6 L468.5,225.6 L469.0,225.6 L469.5,225.5 L470.0,225.5 L470.5,225.5 L471.0,225.4 L471.5,225.4 L472.0,225.3 L472.5,225.3 L473.0,225.3 L473.5,225.2 L474.0,225.2 L474.5,225.2 L475.0,225.1 L475.5,225.1 L476.0,225.1 L476.5,225.0 L477.0,225.0 L477.5,225.0 L478.0,224.9 L478.5,224.9 L479.0,224.8 L479.5,224.8 L480.0,224.8 L480.5,224.7 L481.0,224.7 L481.5,224.6 L482.0,224.6 L482.5,224.6 L483.0,224.5 L483.5,224.5 L484.0,224.4 L484.5,224.4 L485.0,224.4 L485.5,224.3 L486.0,224.3 L486.5,224.2 L487.0,224.2 L487.5,224.2 L488.0,224.1 L488.5,224.1 L489.0,224.0 L489.5,224.0 L490.0,223.9 L490.5,223.9 L491.0,223.9 L491.5,223.8 L492.0,223.8 L492.5,223.7 L493.0,223.7 L493.5,223.6 L494.0,223.6 L494.5,223.5 L495.0,223.5 L495.5,223.4 L496.0,223.4 L496.5,223.3 L497.0,223.3 L497.5,223.2 L498.0,223.2 L498.5,223.1 L499.0,223.1 L499.5,223.1 L500.0,223.0 L500.5,222.9 L501.0,222.9 L501.5,222.8 L502.0,222.8 L502.5,222.7 L503.0,222.7 L503.5,222.6 L504.0,222.6 L504.5,222.5 L505.0,222.5 L505.5,222.4 L506.0,222.4 L506.5,222.3 L507.0,222.3 L507.5,222.2 L508.0,222.1 L508.5,222.1 L509.0,222.0 L509.5,222.0 L510.0,221.9 L510.5,221.8 L511.0,221.8 L511.5,221.7 L512.0,221.7 L512.5,221.6 L513.0,221.5 L513.5,221.5 L514.0,221.4 L514.5,221.3 L515.0,221.3 L515.5,221.2 L516.0,221.1 L516.5,221.1 L517.0,221.0 L517.5,220.9 L518.0,220.9 L518.5,220.8 L519.0,220.7 L519.5,220.7 L520.0,220.6 L520.5,220.5 L521.0,220.5 L521.5,220.4 L522.0,220.3 L522.5,220.2 L523.0,220.2 L523.5,220.1 L524.0,220.0 L524.5,219.9 L525.0,219.9 L525.5,219.8 L526.0,219.7 L526.5,219.6 L527.0,219.5 L527.5,219.5 L528.0,219.4 L528.5,219.3 L529.0,219.2 L529.5,219.1 L530.0,219.1 L530.5,219.0 L531.0,218.9 L531.5,218.8 L532.0,218.7 L532.5,218.6 L533.0,218.6 L533.5,218.5 L534.0,218.4 L534.5,218.3 L535.0,218.2 L535.5,218.1 L536.0,218.0 L536.5,217.9 L537.0,217.8 L537.5,217.7 L538.0,217.7 L538.5,217.6 L539.0,217.5 L539.5,217.4 L540.0,217.3 L540.5,217.2 L541.0,217.1 L541.5,217.0 L542.0,216.9 L542.5,216.8 L543.0,216.7 L543.5,216.6 L544.0,216.5 L544.5,216.4 L545.0,216.3 L545.5,216.2 L546.0,216.1 L546.5,216.0 L547.0,215.9 L547.5,215.7 L548.0,215.6 L548.5,215.5 L549.0,215.4 L549.5,215.3 L550.0,215.2 L550.5,215.1 L551.0,215.0 L551.5,214.8 L552.0,214.7 L552.5,214.6 L553.0,214.5 L553.5,214.3 L554.0,214.2 L554.5,214.0 L555.0,213.9 L555.5,213.7 L556.0,213.6 L556.5,213.4 L557.0,213.3 L557.5,213.1 L558.0,212.9 L558.5,212.8 L559.0,212.6 L559.5,212.4 L560.0,212.2 L560.5,212.1 L561.0,211.9 L561.5,211.7 L562.0,211.5 L562.5,211.4 L563.0,211.2 L563.5,211.0 L564.0,210.8 L564.5,210.6 L565.0,210.5 L565.5,210.3 L566.0,210.1 L566.5,209.9 L567.0,209.7 L567.5,209.6 L568.0,209.4 L568.5,209.2 L569.0,209.0 L569.5,208.9 L570.0,208.7 L570.5,208.5 L571.0,208.4 L571.5,208.2 L572.0,208.0 L572.5,207.9 L573.0,207.7 L573.5,207.5 L574.0,207.3 L574.5,207.2 L575.0,207.0 L575.5,206.8 L576.0,206.7 L576.5,206.5 L577.0,206.3 L577.5,206.2 L578.0,206.0 L578.5,205.8 L579.0,205.6 L579.5,205.5 L580.0,205.3 L580.5,205.1 L581.0,204.9 L581.5,204.8 L582.0,204.6 L582.5,204.4 L583.0,204.2 L583.5,204.1 L584.0,203.9 L584.5,203.7 L585.0,203.5 L585.5,203.3 L586.0,203.1 L586.5,203.0 L587.0,202.8 L587.5,202.6 L588.0,202.4 L588.5,202.2 L589.0,202.0 L589.5,201.8 L590.0,201.6 L590.5,201.4 L591.0,201.2 L591.5,201.0 L592.0,200.8 L592.5,200.6 L593.0,200.4 L593.5,200.2 L594.0,199.9 L594.5,199.7 L595.0,199.5 L595.5,199.3 L596.0,199.1 L596.5,198.9 L597.0,198.6 L597.5,198.4 L598.0,198.2 L598.5,198.0 L599.0,197.7 L599.5,197.5 L600.0,197.3 L600.5,197.0 L601.0,196.8 L601.5,196.6 L602.0,196.3 L602.5,196.1 L603.0,195.9 L603.5,195.6 L604.0,195.4 L604.5,195.2 L605.0,194.9 L605.5,194.7 L606.0,194.4 L606.5,194.2 L607.0,194.0 L607.5,193.7 L608.0,193.5 L608.5,193.2 L609.0,193.0 L609.5,192.8 L610.0,192.5 L610.5,192.3 L611.0,192.0 L611.5,191.8 L612.0,191.5 L612.5,191.3 L613.0,191.0 L613.5,190.8 L614.0,190.5 L614.5,190.3 L615.0,190.0 L615.5,189.8 L616.0,189.5 L616.5,189.3 L617.0,189.0 L617.5,188.7 L618.0,188.5 L618.5,188.3 L619.0,188.0 L619.5,187.8 L620.0,187.6 L620.5,187.3 L621.0,187.1 L621.5,186.8 L622.0,186.6 L622.5,186.3 L623.0,186.0 L623.5,185.8 L624.0,185.4 L624.5,185.1 L625.0,184.8 L625.5,184.4 L626.0,184.1 L626.5,183.7 L627.0,183.3 L627.5,182.9 L628.0,182.4 L628.5,182.0 L629.0,181.5 L629.5,181.0 L630.0,180.4 L630.5,179.9 L631.0,179.3 L631.5,178.7 L632.0,178.0 L632.5,177.2 L633.0,176.4 L633.5,175.4 L634.0,174.3 L634.5,173.2 L635.0,172.1 L635.5,171.0 L636.0,170.0" fill="none" stroke="#7a7ae8" stroke-width="1.0" stroke-dasharray="4,2,1,2"/>
</g>
<line x1="608.50" y1="163.90" x2="608.50" y2="241.40" stroke="#606060" stroke-width="1.0" />
<line x1="616.90" y1="163.90" x2="616.90" y2="241.40" stroke="#a0a0f2" stroke-width="1.0" stroke-dasharray="1.5,1.5"/>
<line x1="384.00" y1="163.90" x2="636.00" y2="163.90" stroke="#1a1a1a" stroke-width="1.3" />
<line x1="384.00" y1="241.40" x2="636.00" y2="241.40" stroke="#1a1a1a" stroke-width="1.3" />
<line x1="384.00" y1="163.25" x2="384.00" y2="242.05" stroke="#1a1a1a" stroke-width="1.3" />
<line x1="636.00" y1="163.25" x2="636.00" y2="242.05" stroke="#2a2ad8" stroke-width="1.3" />
<rect x="388" y="184.1" width="58.3" height="52.9" fill="#fff" stroke="#222" stroke-width="1.2"/>
<line x1="391.40" y1="194.80" x2="431.30" y2="194.80" stroke="#888" stroke-width="1.0" />
<line x1="391.40" y1="210.80" x2="431.30" y2="210.80" stroke="#ef7a7a" stroke-width="1.0" stroke-dasharray="5,3"/>
<line x1="391.40" y1="227.40" x2="431.30" y2="227.40" stroke="#7a7ae8" stroke-width="1.0" stroke-dasharray="4,2,1,2"/>
<text x="434.00" y="199.40" font-size="14" text-anchor="start" fill="#111" stroke="#111" stroke-width="0.3" font-weight="normal" font-family="Liberation Sans" font-style="normal" >p</text>
<text x="434.80" y="215.40" font-size="14" text-anchor="start" fill="#111" stroke="#111" stroke-width="0.3" font-weight="normal" font-family="Liberation Sans" font-style="normal" >j</text>
<text x="434.00" y="232.20" font-size="14" text-anchor="start" fill="#111" stroke="#111" stroke-width="0.3" font-weight="normal" font-family="Liberation Sans" font-style="normal" >q</text>
<text x="376.90" y="183.10" font-size="10.4" text-anchor="end" fill="#222" stroke="#222" stroke-width="0.3" font-weight="normal" font-family="Liberation Sans" font-style="normal" textLength="10.5" lengthAdjust="spacingAndGlyphs" >10</text>
<text x="377.20" y="178.60" font-size="7.8" text-anchor="start" fill="#222" stroke="#222" stroke-width="0.3" font-weight="normal" font-family="Liberation Sans" font-style="normal" >0</text>
<text x="376.90" y="213.80" font-size="10.4" text-anchor="end" fill="#222" stroke="#222" stroke-width="0.3" font-weight="normal" font-family="Liberation Sans" font-style="normal" textLength="10.5" lengthAdjust="spacingAndGlyphs" >10</text>
<text x="376.80" y="208.40" font-size="7.8" text-anchor="start" fill="#222" stroke="#222" stroke-width="0.3" font-weight="normal" font-family="Liberation Sans" font-style="normal" textLength="4.8" lengthAdjust="spacingAndGlyphs" >-1</text>
<text x="372.60" y="246.50" font-size="10.4" text-anchor="end" fill="#222" stroke="#222" stroke-width="0.3" font-weight="normal" font-family="Liberation Sans" font-style="normal" textLength="10.2" lengthAdjust="spacingAndGlyphs" >10</text>
<text x="373.60" y="241.60" font-size="8.4" text-anchor="start" fill="#222" stroke="#222" stroke-width="0.3" font-weight="normal" font-family="Liberation Sans" font-style="normal" textLength="7.6" lengthAdjust="spacingAndGlyphs" >-2</text>
<text x="638.30" y="168.00" font-size="10.5" text-anchor="start" fill="#2a2ad8" stroke="#2a2ad8" stroke-width="0.3" font-weight="normal" font-family="Liberation Sans" font-style="normal" >6</text>
<text x="638.30" y="193.70" font-size="10.5" text-anchor="start" fill="#2a2ad8" stroke="#2a2ad8" stroke-width="0.3" font-weight="normal" font-family="Liberation Sans" font-style="normal" >4</text>
<text x="638.30" y="219.40" font-size="10.5" text-anchor="start" fill="#2a2ad8" stroke="#2a2ad8" stroke-width="0.3" font-weight="normal" font-family="Liberation Sans" font-style="normal" >2</text>
<text x="638.30" y="244.70" font-size="10.5" text-anchor="start" fill="#2a2ad8" stroke="#2a2ad8" stroke-width="0.3" font-weight="normal" font-family="Liberation Sans" font-style="normal" >0</text>
<text x="384.00" y="255.70" font-size="10.5" text-anchor="middle" fill="#222" stroke="#222" stroke-width="0.3" font-weight="normal" font-family="Liberation Sans" font-style="normal" >0</text>
<text x="434.70" y="255.70" font-size="10.5" text-anchor="middle" fill="#222" stroke="#222" stroke-width="0.3" font-weight="normal" font-family="Liberation Sans" font-style="normal" >0.2</text>
<text x="485.40" y="255.70" font-size="10.5" text-anchor="middle" fill="#222" stroke="#222" stroke-width="0.3" font-weight="normal" font-family="Liberation Sans" font-style="normal" >0.4</text>
<text x="536.10" y="255.70" font-size="10.5" text-anchor="middle" fill="#222" stroke="#222" stroke-width="0.3" font-weight="normal" font-family="Liberation Sans" font-style="normal" >0.6</text>
<text x="586.80" y="255.70" font-size="10.5" text-anchor="middle" fill="#222" stroke="#222" stroke-width="0.3" font-weight="normal" font-family="Liberation Sans" font-style="normal" >0.8</text>
<text x="637.50" y="255.70" font-size="10.5" text-anchor="middle" fill="#222" stroke="#222" stroke-width="0.3" font-weight="normal" font-family="Liberation Sans" font-style="normal" >1</text>
<text x="383.40" y="158.20" font-size="15" text-anchor="start" fill="#111" stroke="#111" stroke-width="0.0" font-weight="bold" font-family="Liberation Sans" font-style="normal" >(d)</text>
<text x="430.80" y="275.80" font-size="16.0" text-anchor="start" fill="#222" stroke="#222" stroke-width="0.3" font-weight="normal" font-family="Liberation Sans" font-style="normal" textLength="142.2" lengthAdjust="spacing" >Normalized radius,</text>
<text x="579.40" y="275.80" font-size="16.5" text-anchor="start" fill="#222" stroke="#222" stroke-width="0.3" font-weight="normal" font-family="Liberation Serif" font-style="italic" >&#961;</text>
<text transform="translate(339.30,242.60) rotate(-90)" x="0" y="0" font-size="14" fill="#222" stroke="#222" stroke-width="0.3" font-family="Liberation Sans" font-style="normal" text-anchor="start">p</text>
<text transform="translate(339.30,229.60) rotate(-90)" x="0" y="0" font-size="14" fill="#222" stroke="#222" stroke-width="0.3" font-family="Liberation Sans" font-style="normal" text-anchor="start">(</text>
<text transform="translate(339.30,218.60) rotate(-90)" x="0" y="0" font-size="14" fill="#222" stroke="#222" stroke-width="0.3" font-family="Liberation Sans" font-style="normal" text-anchor="start">&#215;</text>
<text transform="translate(339.30,207.20) rotate(-90)" x="0" y="0" font-size="14" fill="#222" stroke="#222" stroke-width="0.3" font-family="Liberation Sans" font-style="normal" text-anchor="start" textLength="55.4" lengthAdjust="spacingAndGlyphs">100 kPa)</text>
<text transform="translate(356.80,232.40) rotate(-90)" x="0" y="0" font-size="14.5" fill="#222" stroke="#222" stroke-width="0.3" font-family="Liberation Sans" font-style="normal" text-anchor="start" textLength="50.6" lengthAdjust="spacingAndGlyphs">j (MA/m</text>
<text transform="translate(349.00,179.40) rotate(-90)" x="0" y="0" font-size="10" fill="#222" stroke="#222" stroke-width="0.3" font-family="Liberation Sans" font-style="normal" text-anchor="start">2</text>
<text transform="translate(356.80,170.60) rotate(-90)" x="0" y="0" font-size="14.5" fill="#222" stroke="#222" stroke-width="0.3" font-family="Liberation Sans" font-style="normal" text-anchor="start">)</text>
<text transform="translate(670.00,265.30) rotate(-90)" x="0" y="0" font-size="16" fill="#2a2ad8" stroke="#2a2ad8" stroke-width="0.3" font-family="Liberation Sans" font-style="normal" text-anchor="start" textLength="108.4" lengthAdjust="spacingAndGlyphs">Safety-factor, q</text>
</svg>
</body></html>
